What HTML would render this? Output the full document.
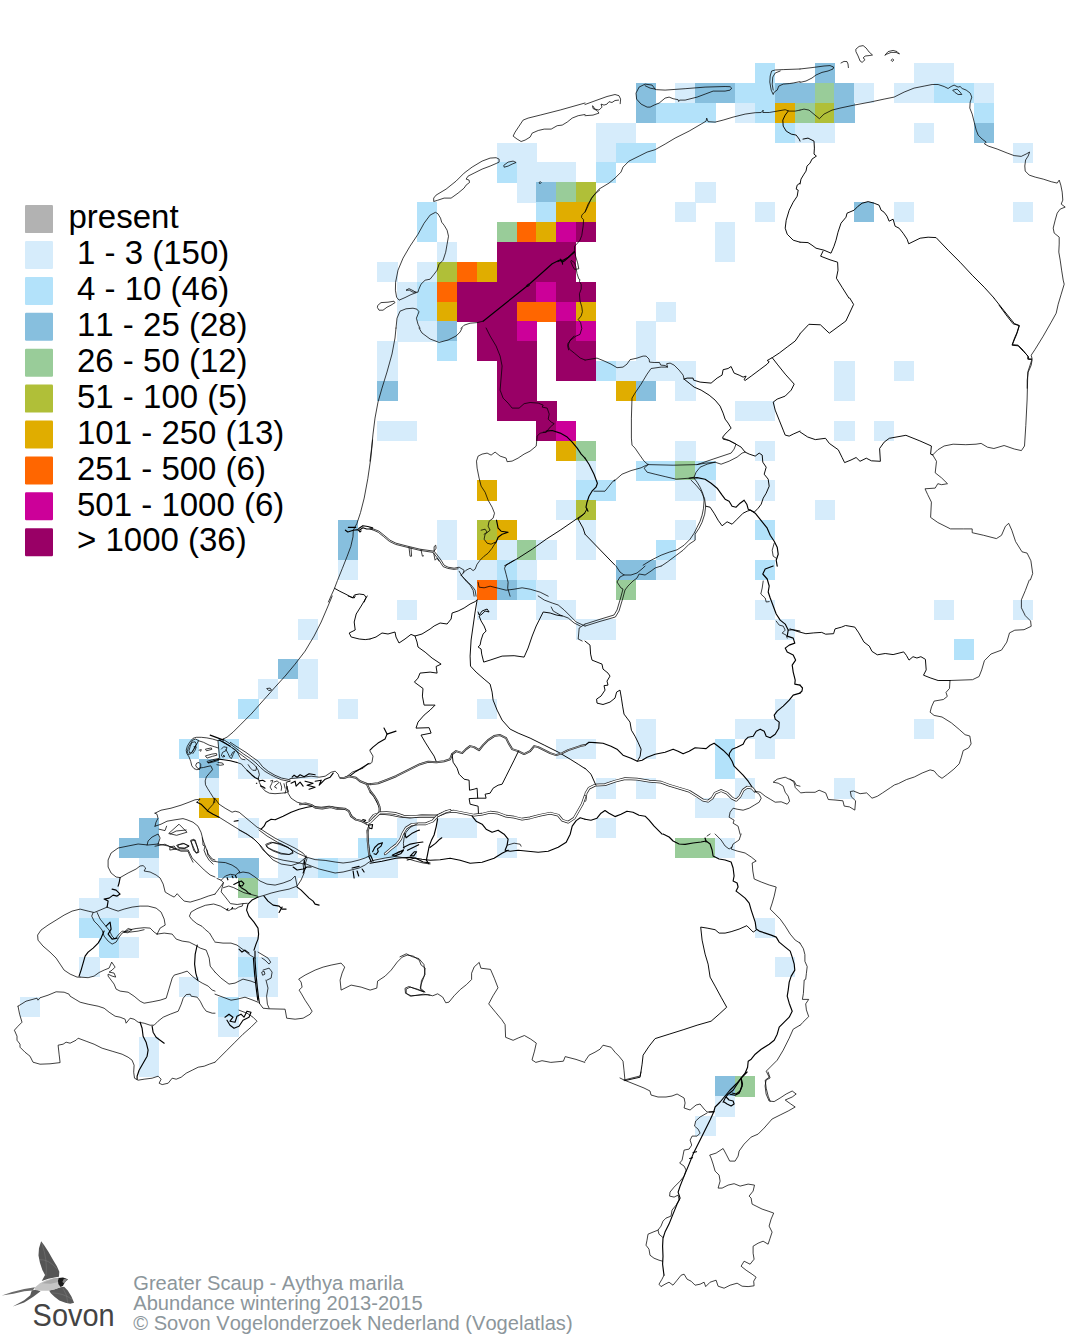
<!DOCTYPE html>
<html><head><meta charset="utf-8"><title>Greater Scaup - Abundance wintering 2013-2015</title>
<style>
html,body{margin:0;padding:0;background:#fff;}
body{width:1074px;height:1340px;overflow:hidden;font-family:"Liberation Sans",sans-serif;}
svg{display:block;position:absolute;left:0;top:0;}
svg text{font-family:"Liberation Sans",sans-serif;font-kerning:none;}
</style></head><body>
<svg width="1074" height="1340" viewBox="0 0 1074 1340">
<rect width="1074" height="1340" fill="#fff"/>
<g id="cells" shape-rendering="crispEdges">
<rect x="754.96" y="63.11" width="20.17" height="20.17" fill="#B3E2FA"/>
<rect x="814.57" y="63.11" width="20.17" height="20.17" fill="#87BFDE"/>
<rect x="913.92" y="63.11" width="20.17" height="20.17" fill="#D6ECFB"/>
<rect x="933.79" y="63.11" width="20.17" height="20.17" fill="#D6ECFB"/>
<rect x="635.74" y="82.98" width="20.17" height="20.17" fill="#87BFDE"/>
<rect x="675.48" y="82.98" width="20.17" height="20.17" fill="#D6ECFB"/>
<rect x="695.35" y="82.98" width="20.17" height="20.17" fill="#87BFDE"/>
<rect x="715.22" y="82.98" width="20.17" height="20.17" fill="#87BFDE"/>
<rect x="735.09" y="82.98" width="20.17" height="20.17" fill="#B3E2FA"/>
<rect x="754.96" y="82.98" width="20.17" height="20.17" fill="#B3E2FA"/>
<rect x="774.83" y="82.98" width="20.17" height="20.17" fill="#87BFDE"/>
<rect x="794.70" y="82.98" width="20.17" height="20.17" fill="#87BFDE"/>
<rect x="814.57" y="82.98" width="20.17" height="20.17" fill="#99CC99"/>
<rect x="834.44" y="82.98" width="20.17" height="20.17" fill="#87BFDE"/>
<rect x="854.31" y="82.98" width="20.17" height="20.17" fill="#D6ECFB"/>
<rect x="894.05" y="82.98" width="20.17" height="20.17" fill="#D6ECFB"/>
<rect x="913.92" y="82.98" width="20.17" height="20.17" fill="#D6ECFB"/>
<rect x="933.79" y="82.98" width="20.17" height="20.17" fill="#B3E2FA"/>
<rect x="953.66" y="82.98" width="20.17" height="20.17" fill="#B3E2FA"/>
<rect x="973.53" y="82.98" width="20.17" height="20.17" fill="#D6ECFB"/>
<rect x="635.74" y="102.85" width="20.17" height="20.17" fill="#87BFDE"/>
<rect x="655.61" y="102.85" width="20.17" height="20.17" fill="#B3E2FA"/>
<rect x="675.48" y="102.85" width="20.17" height="20.17" fill="#B3E2FA"/>
<rect x="695.35" y="102.85" width="20.17" height="20.17" fill="#B3E2FA"/>
<rect x="735.09" y="102.85" width="20.17" height="20.17" fill="#D6ECFB"/>
<rect x="754.96" y="102.85" width="20.17" height="20.17" fill="#B3E2FA"/>
<rect x="774.83" y="102.85" width="20.17" height="20.17" fill="#E0AD00"/>
<rect x="794.70" y="102.85" width="20.17" height="20.17" fill="#99CC99"/>
<rect x="814.57" y="102.85" width="20.17" height="20.17" fill="#B0BF38"/>
<rect x="834.44" y="102.85" width="20.17" height="20.17" fill="#87BFDE"/>
<rect x="973.53" y="102.85" width="20.17" height="20.17" fill="#B3E2FA"/>
<rect x="596.00" y="122.72" width="20.17" height="20.17" fill="#D6ECFB"/>
<rect x="615.87" y="122.72" width="20.17" height="20.17" fill="#D6ECFB"/>
<rect x="774.83" y="122.72" width="20.17" height="20.17" fill="#B3E2FA"/>
<rect x="794.70" y="122.72" width="20.17" height="20.17" fill="#D6ECFB"/>
<rect x="814.57" y="122.72" width="20.17" height="20.17" fill="#D6ECFB"/>
<rect x="913.92" y="122.72" width="20.17" height="20.17" fill="#D6ECFB"/>
<rect x="973.53" y="122.72" width="20.17" height="20.17" fill="#87BFDE"/>
<rect x="496.65" y="142.59" width="20.17" height="20.17" fill="#D6ECFB"/>
<rect x="516.52" y="142.59" width="20.17" height="20.17" fill="#D6ECFB"/>
<rect x="596.00" y="142.59" width="20.17" height="20.17" fill="#D6ECFB"/>
<rect x="615.87" y="142.59" width="20.17" height="20.17" fill="#B3E2FA"/>
<rect x="635.74" y="142.59" width="20.17" height="20.17" fill="#B3E2FA"/>
<rect x="1013.27" y="142.59" width="20.17" height="20.17" fill="#D6ECFB"/>
<rect x="496.65" y="162.46" width="20.17" height="20.17" fill="#B3E2FA"/>
<rect x="516.52" y="162.46" width="20.17" height="20.17" fill="#D6ECFB"/>
<rect x="536.39" y="162.46" width="20.17" height="20.17" fill="#D6ECFB"/>
<rect x="556.26" y="162.46" width="20.17" height="20.17" fill="#D6ECFB"/>
<rect x="596.00" y="162.46" width="20.17" height="20.17" fill="#B3E2FA"/>
<rect x="516.52" y="182.33" width="20.17" height="20.17" fill="#D6ECFB"/>
<rect x="536.39" y="182.33" width="20.17" height="20.17" fill="#87BFDE"/>
<rect x="556.26" y="182.33" width="20.17" height="20.17" fill="#99CC99"/>
<rect x="576.13" y="182.33" width="20.17" height="20.17" fill="#B0BF38"/>
<rect x="695.35" y="182.33" width="20.17" height="20.17" fill="#D6ECFB"/>
<rect x="417.17" y="202.20" width="20.17" height="20.17" fill="#B3E2FA"/>
<rect x="536.39" y="202.20" width="20.17" height="20.17" fill="#B3E2FA"/>
<rect x="556.26" y="202.20" width="20.17" height="20.17" fill="#E0AD00"/>
<rect x="576.13" y="202.20" width="20.17" height="20.17" fill="#E0AD00"/>
<rect x="675.48" y="202.20" width="20.17" height="20.17" fill="#D6ECFB"/>
<rect x="754.96" y="202.20" width="20.17" height="20.17" fill="#D6ECFB"/>
<rect x="854.31" y="202.20" width="20.17" height="20.17" fill="#87BFDE"/>
<rect x="894.05" y="202.20" width="20.17" height="20.17" fill="#D6ECFB"/>
<rect x="1013.27" y="202.20" width="20.17" height="20.17" fill="#D6ECFB"/>
<rect x="417.17" y="222.07" width="20.17" height="20.17" fill="#B3E2FA"/>
<rect x="496.65" y="222.07" width="20.17" height="20.17" fill="#99CC99"/>
<rect x="516.52" y="222.07" width="20.17" height="20.17" fill="#FF6600"/>
<rect x="536.39" y="222.07" width="20.17" height="20.17" fill="#E0AD00"/>
<rect x="556.26" y="222.07" width="20.17" height="20.17" fill="#CC0099"/>
<rect x="576.13" y="222.07" width="20.17" height="20.17" fill="#990066"/>
<rect x="715.22" y="222.07" width="20.17" height="20.17" fill="#D6ECFB"/>
<rect x="437.04" y="241.94" width="20.17" height="20.17" fill="#D6ECFB"/>
<rect x="496.65" y="241.94" width="20.17" height="20.17" fill="#990066"/>
<rect x="516.52" y="241.94" width="20.17" height="20.17" fill="#990066"/>
<rect x="536.39" y="241.94" width="20.17" height="20.17" fill="#990066"/>
<rect x="556.26" y="241.94" width="20.17" height="20.17" fill="#990066"/>
<rect x="715.22" y="241.94" width="20.17" height="20.17" fill="#D6ECFB"/>
<rect x="377.43" y="261.81" width="20.17" height="20.17" fill="#D6ECFB"/>
<rect x="417.17" y="261.81" width="20.17" height="20.17" fill="#D6ECFB"/>
<rect x="437.04" y="261.81" width="20.17" height="20.17" fill="#B0BF38"/>
<rect x="456.91" y="261.81" width="20.17" height="20.17" fill="#FF6600"/>
<rect x="476.78" y="261.81" width="20.17" height="20.17" fill="#E0AD00"/>
<rect x="496.65" y="261.81" width="20.17" height="20.17" fill="#990066"/>
<rect x="516.52" y="261.81" width="20.17" height="20.17" fill="#990066"/>
<rect x="536.39" y="261.81" width="20.17" height="20.17" fill="#990066"/>
<rect x="556.26" y="261.81" width="20.17" height="20.17" fill="#990066"/>
<rect x="397.30" y="281.68" width="20.17" height="20.17" fill="#D6ECFB"/>
<rect x="417.17" y="281.68" width="20.17" height="20.17" fill="#B3E2FA"/>
<rect x="437.04" y="281.68" width="20.17" height="20.17" fill="#FF6600"/>
<rect x="456.91" y="281.68" width="20.17" height="20.17" fill="#990066"/>
<rect x="476.78" y="281.68" width="20.17" height="20.17" fill="#990066"/>
<rect x="496.65" y="281.68" width="20.17" height="20.17" fill="#990066"/>
<rect x="516.52" y="281.68" width="20.17" height="20.17" fill="#990066"/>
<rect x="536.39" y="281.68" width="20.17" height="20.17" fill="#CC0099"/>
<rect x="556.26" y="281.68" width="20.17" height="20.17" fill="#990066"/>
<rect x="576.13" y="281.68" width="20.17" height="20.17" fill="#990066"/>
<rect x="397.30" y="301.55" width="20.17" height="20.17" fill="#D6ECFB"/>
<rect x="417.17" y="301.55" width="20.17" height="20.17" fill="#B3E2FA"/>
<rect x="437.04" y="301.55" width="20.17" height="20.17" fill="#E0AD00"/>
<rect x="456.91" y="301.55" width="20.17" height="20.17" fill="#990066"/>
<rect x="476.78" y="301.55" width="20.17" height="20.17" fill="#990066"/>
<rect x="496.65" y="301.55" width="20.17" height="20.17" fill="#990066"/>
<rect x="516.52" y="301.55" width="20.17" height="20.17" fill="#FF6600"/>
<rect x="536.39" y="301.55" width="20.17" height="20.17" fill="#FF6600"/>
<rect x="556.26" y="301.55" width="20.17" height="20.17" fill="#CC0099"/>
<rect x="576.13" y="301.55" width="20.17" height="20.17" fill="#E0AD00"/>
<rect x="655.61" y="301.55" width="20.17" height="20.17" fill="#D6ECFB"/>
<rect x="397.30" y="321.42" width="20.17" height="20.17" fill="#D6ECFB"/>
<rect x="417.17" y="321.42" width="20.17" height="20.17" fill="#D6ECFB"/>
<rect x="437.04" y="321.42" width="20.17" height="20.17" fill="#87BFDE"/>
<rect x="476.78" y="321.42" width="20.17" height="20.17" fill="#990066"/>
<rect x="496.65" y="321.42" width="20.17" height="20.17" fill="#990066"/>
<rect x="516.52" y="321.42" width="20.17" height="20.17" fill="#CC0099"/>
<rect x="556.26" y="321.42" width="20.17" height="20.17" fill="#990066"/>
<rect x="576.13" y="321.42" width="20.17" height="20.17" fill="#CC0099"/>
<rect x="635.74" y="321.42" width="20.17" height="20.17" fill="#D6ECFB"/>
<rect x="377.43" y="341.29" width="20.17" height="20.17" fill="#D6ECFB"/>
<rect x="437.04" y="341.29" width="20.17" height="20.17" fill="#B3E2FA"/>
<rect x="476.78" y="341.29" width="20.17" height="20.17" fill="#990066"/>
<rect x="496.65" y="341.29" width="20.17" height="20.17" fill="#990066"/>
<rect x="516.52" y="341.29" width="20.17" height="20.17" fill="#990066"/>
<rect x="556.26" y="341.29" width="20.17" height="20.17" fill="#990066"/>
<rect x="576.13" y="341.29" width="20.17" height="20.17" fill="#990066"/>
<rect x="635.74" y="341.29" width="20.17" height="20.17" fill="#D6ECFB"/>
<rect x="377.43" y="361.16" width="20.17" height="20.17" fill="#D6ECFB"/>
<rect x="496.65" y="361.16" width="20.17" height="20.17" fill="#990066"/>
<rect x="516.52" y="361.16" width="20.17" height="20.17" fill="#990066"/>
<rect x="556.26" y="361.16" width="20.17" height="20.17" fill="#990066"/>
<rect x="576.13" y="361.16" width="20.17" height="20.17" fill="#990066"/>
<rect x="596.00" y="361.16" width="20.17" height="20.17" fill="#B3E2FA"/>
<rect x="615.87" y="361.16" width="20.17" height="20.17" fill="#D6ECFB"/>
<rect x="635.74" y="361.16" width="20.17" height="20.17" fill="#D6ECFB"/>
<rect x="655.61" y="361.16" width="20.17" height="20.17" fill="#D6ECFB"/>
<rect x="675.48" y="361.16" width="20.17" height="20.17" fill="#D6ECFB"/>
<rect x="834.44" y="361.16" width="20.17" height="20.17" fill="#D6ECFB"/>
<rect x="894.05" y="361.16" width="20.17" height="20.17" fill="#D6ECFB"/>
<rect x="377.43" y="381.03" width="20.17" height="20.17" fill="#87BFDE"/>
<rect x="496.65" y="381.03" width="20.17" height="20.17" fill="#990066"/>
<rect x="516.52" y="381.03" width="20.17" height="20.17" fill="#990066"/>
<rect x="615.87" y="381.03" width="20.17" height="20.17" fill="#E0AD00"/>
<rect x="635.74" y="381.03" width="20.17" height="20.17" fill="#87BFDE"/>
<rect x="675.48" y="381.03" width="20.17" height="20.17" fill="#D6ECFB"/>
<rect x="834.44" y="381.03" width="20.17" height="20.17" fill="#D6ECFB"/>
<rect x="496.65" y="400.90" width="20.17" height="20.17" fill="#990066"/>
<rect x="516.52" y="400.90" width="20.17" height="20.17" fill="#990066"/>
<rect x="536.39" y="400.90" width="20.17" height="20.17" fill="#990066"/>
<rect x="735.09" y="400.90" width="20.17" height="20.17" fill="#D6ECFB"/>
<rect x="754.96" y="400.90" width="20.17" height="20.17" fill="#D6ECFB"/>
<rect x="377.43" y="420.77" width="20.17" height="20.17" fill="#D6ECFB"/>
<rect x="397.30" y="420.77" width="20.17" height="20.17" fill="#D6ECFB"/>
<rect x="536.39" y="420.77" width="20.17" height="20.17" fill="#990066"/>
<rect x="556.26" y="420.77" width="20.17" height="20.17" fill="#CC0099"/>
<rect x="834.44" y="420.77" width="20.17" height="20.17" fill="#D6ECFB"/>
<rect x="874.18" y="420.77" width="20.17" height="20.17" fill="#D6ECFB"/>
<rect x="556.26" y="440.64" width="20.17" height="20.17" fill="#E0AD00"/>
<rect x="576.13" y="440.64" width="20.17" height="20.17" fill="#99CC99"/>
<rect x="675.48" y="440.64" width="20.17" height="20.17" fill="#D6ECFB"/>
<rect x="754.96" y="440.64" width="20.17" height="20.17" fill="#D6ECFB"/>
<rect x="576.13" y="460.51" width="20.17" height="20.17" fill="#D6ECFB"/>
<rect x="635.74" y="460.51" width="20.17" height="20.17" fill="#B3E2FA"/>
<rect x="655.61" y="460.51" width="20.17" height="20.17" fill="#B3E2FA"/>
<rect x="675.48" y="460.51" width="20.17" height="20.17" fill="#99CC99"/>
<rect x="695.35" y="460.51" width="20.17" height="20.17" fill="#B3E2FA"/>
<rect x="476.78" y="480.38" width="20.17" height="20.17" fill="#E0AD00"/>
<rect x="576.13" y="480.38" width="20.17" height="20.17" fill="#B3E2FA"/>
<rect x="596.00" y="480.38" width="20.17" height="20.17" fill="#B3E2FA"/>
<rect x="675.48" y="480.38" width="20.17" height="20.17" fill="#D6ECFB"/>
<rect x="695.35" y="480.38" width="20.17" height="20.17" fill="#D6ECFB"/>
<rect x="754.96" y="480.38" width="20.17" height="20.17" fill="#D6ECFB"/>
<rect x="556.26" y="500.25" width="20.17" height="20.17" fill="#D6ECFB"/>
<rect x="576.13" y="500.25" width="20.17" height="20.17" fill="#B0BF38"/>
<rect x="814.57" y="500.25" width="20.17" height="20.17" fill="#D6ECFB"/>
<rect x="337.69" y="520.12" width="20.17" height="20.17" fill="#87BFDE"/>
<rect x="437.04" y="520.12" width="20.17" height="20.17" fill="#D6ECFB"/>
<rect x="476.78" y="520.12" width="20.17" height="20.17" fill="#B0BF38"/>
<rect x="496.65" y="520.12" width="20.17" height="20.17" fill="#E0AD00"/>
<rect x="576.13" y="520.12" width="20.17" height="20.17" fill="#D6ECFB"/>
<rect x="675.48" y="520.12" width="20.17" height="20.17" fill="#D6ECFB"/>
<rect x="754.96" y="520.12" width="20.17" height="20.17" fill="#B3E2FA"/>
<rect x="337.69" y="539.99" width="20.17" height="20.17" fill="#87BFDE"/>
<rect x="437.04" y="539.99" width="20.17" height="20.17" fill="#D6ECFB"/>
<rect x="476.78" y="539.99" width="20.17" height="20.17" fill="#E0AD00"/>
<rect x="496.65" y="539.99" width="20.17" height="20.17" fill="#D6ECFB"/>
<rect x="516.52" y="539.99" width="20.17" height="20.17" fill="#99CC99"/>
<rect x="536.39" y="539.99" width="20.17" height="20.17" fill="#D6ECFB"/>
<rect x="576.13" y="539.99" width="20.17" height="20.17" fill="#D6ECFB"/>
<rect x="655.61" y="539.99" width="20.17" height="20.17" fill="#B3E2FA"/>
<rect x="337.69" y="559.86" width="20.17" height="20.17" fill="#D6ECFB"/>
<rect x="456.91" y="559.86" width="20.17" height="20.17" fill="#D6ECFB"/>
<rect x="476.78" y="559.86" width="20.17" height="20.17" fill="#D6ECFB"/>
<rect x="496.65" y="559.86" width="20.17" height="20.17" fill="#B3E2FA"/>
<rect x="516.52" y="559.86" width="20.17" height="20.17" fill="#D6ECFB"/>
<rect x="615.87" y="559.86" width="20.17" height="20.17" fill="#87BFDE"/>
<rect x="635.74" y="559.86" width="20.17" height="20.17" fill="#87BFDE"/>
<rect x="655.61" y="559.86" width="20.17" height="20.17" fill="#D6ECFB"/>
<rect x="754.96" y="559.86" width="20.17" height="20.17" fill="#B3E2FA"/>
<rect x="456.91" y="579.73" width="20.17" height="20.17" fill="#D6ECFB"/>
<rect x="476.78" y="579.73" width="20.17" height="20.17" fill="#FF6600"/>
<rect x="496.65" y="579.73" width="20.17" height="20.17" fill="#87BFDE"/>
<rect x="516.52" y="579.73" width="20.17" height="20.17" fill="#B3E2FA"/>
<rect x="536.39" y="579.73" width="20.17" height="20.17" fill="#D6ECFB"/>
<rect x="615.87" y="579.73" width="20.17" height="20.17" fill="#99CC99"/>
<rect x="397.30" y="599.60" width="20.17" height="20.17" fill="#D6ECFB"/>
<rect x="476.78" y="599.60" width="20.17" height="20.17" fill="#D6ECFB"/>
<rect x="536.39" y="599.60" width="20.17" height="20.17" fill="#D6ECFB"/>
<rect x="556.26" y="599.60" width="20.17" height="20.17" fill="#D6ECFB"/>
<rect x="754.96" y="599.60" width="20.17" height="20.17" fill="#D6ECFB"/>
<rect x="933.79" y="599.60" width="20.17" height="20.17" fill="#D6ECFB"/>
<rect x="1013.27" y="599.60" width="20.17" height="20.17" fill="#D6ECFB"/>
<rect x="297.95" y="619.47" width="20.17" height="20.17" fill="#D6ECFB"/>
<rect x="576.13" y="619.47" width="20.17" height="20.17" fill="#D6ECFB"/>
<rect x="596.00" y="619.47" width="20.17" height="20.17" fill="#D6ECFB"/>
<rect x="774.83" y="619.47" width="20.17" height="20.17" fill="#D6ECFB"/>
<rect x="953.66" y="639.34" width="20.17" height="20.17" fill="#B3E2FA"/>
<rect x="278.08" y="659.21" width="20.17" height="20.17" fill="#87BFDE"/>
<rect x="297.95" y="659.21" width="20.17" height="20.17" fill="#D6ECFB"/>
<rect x="258.21" y="679.08" width="20.17" height="20.17" fill="#D6ECFB"/>
<rect x="297.95" y="679.08" width="20.17" height="20.17" fill="#D6ECFB"/>
<rect x="238.34" y="698.95" width="20.17" height="20.17" fill="#B3E2FA"/>
<rect x="337.69" y="698.95" width="20.17" height="20.17" fill="#D6ECFB"/>
<rect x="476.78" y="698.95" width="20.17" height="20.17" fill="#D6ECFB"/>
<rect x="774.83" y="698.95" width="20.17" height="20.17" fill="#D6ECFB"/>
<rect x="635.74" y="718.82" width="20.17" height="20.17" fill="#D6ECFB"/>
<rect x="735.09" y="718.82" width="20.17" height="20.17" fill="#D6ECFB"/>
<rect x="754.96" y="718.82" width="20.17" height="20.17" fill="#D6ECFB"/>
<rect x="774.83" y="718.82" width="20.17" height="20.17" fill="#D6ECFB"/>
<rect x="913.92" y="718.82" width="20.17" height="20.17" fill="#D6ECFB"/>
<rect x="178.73" y="738.69" width="20.17" height="20.17" fill="#B3E2FA"/>
<rect x="218.47" y="738.69" width="20.17" height="20.17" fill="#B3E2FA"/>
<rect x="556.26" y="738.69" width="20.17" height="20.17" fill="#D6ECFB"/>
<rect x="576.13" y="738.69" width="20.17" height="20.17" fill="#D6ECFB"/>
<rect x="635.74" y="738.69" width="20.17" height="20.17" fill="#D6ECFB"/>
<rect x="715.22" y="738.69" width="20.17" height="20.17" fill="#B3E2FA"/>
<rect x="754.96" y="738.69" width="20.17" height="20.17" fill="#D6ECFB"/>
<rect x="198.60" y="758.56" width="20.17" height="20.17" fill="#87BFDE"/>
<rect x="238.34" y="758.56" width="20.17" height="20.17" fill="#D6ECFB"/>
<rect x="258.21" y="758.56" width="20.17" height="20.17" fill="#D6ECFB"/>
<rect x="278.08" y="758.56" width="20.17" height="20.17" fill="#D6ECFB"/>
<rect x="297.95" y="758.56" width="20.17" height="20.17" fill="#D6ECFB"/>
<rect x="715.22" y="758.56" width="20.17" height="20.17" fill="#B3E2FA"/>
<rect x="198.60" y="778.43" width="20.17" height="20.17" fill="#D6ECFB"/>
<rect x="596.00" y="778.43" width="20.17" height="20.17" fill="#D6ECFB"/>
<rect x="635.74" y="778.43" width="20.17" height="20.17" fill="#D6ECFB"/>
<rect x="735.09" y="778.43" width="20.17" height="20.17" fill="#D6ECFB"/>
<rect x="834.44" y="778.43" width="20.17" height="20.17" fill="#D6ECFB"/>
<rect x="198.60" y="798.30" width="20.17" height="20.17" fill="#E0AD00"/>
<rect x="695.35" y="798.30" width="20.17" height="20.17" fill="#D6ECFB"/>
<rect x="715.22" y="798.30" width="20.17" height="20.17" fill="#D6ECFB"/>
<rect x="138.99" y="818.17" width="20.17" height="20.17" fill="#87BFDE"/>
<rect x="238.34" y="818.17" width="20.17" height="20.17" fill="#D6ECFB"/>
<rect x="397.30" y="818.17" width="20.17" height="20.17" fill="#D6ECFB"/>
<rect x="437.04" y="818.17" width="20.17" height="20.17" fill="#D6ECFB"/>
<rect x="456.91" y="818.17" width="20.17" height="20.17" fill="#D6ECFB"/>
<rect x="596.00" y="818.17" width="20.17" height="20.17" fill="#D6ECFB"/>
<rect x="119.12" y="838.04" width="20.17" height="20.17" fill="#87BFDE"/>
<rect x="138.99" y="838.04" width="20.17" height="20.17" fill="#87BFDE"/>
<rect x="278.08" y="838.04" width="20.17" height="20.17" fill="#D6ECFB"/>
<rect x="357.56" y="838.04" width="20.17" height="20.17" fill="#B3E2FA"/>
<rect x="377.43" y="838.04" width="20.17" height="20.17" fill="#B3E2FA"/>
<rect x="397.30" y="838.04" width="20.17" height="20.17" fill="#D6ECFB"/>
<rect x="496.65" y="838.04" width="20.17" height="20.17" fill="#D6ECFB"/>
<rect x="675.48" y="838.04" width="20.17" height="20.17" fill="#99CC99"/>
<rect x="695.35" y="838.04" width="20.17" height="20.17" fill="#99CC99"/>
<rect x="715.22" y="838.04" width="20.17" height="20.17" fill="#D6ECFB"/>
<rect x="138.99" y="857.91" width="20.17" height="20.17" fill="#D6ECFB"/>
<rect x="218.47" y="857.91" width="20.17" height="20.17" fill="#87BFDE"/>
<rect x="238.34" y="857.91" width="20.17" height="20.17" fill="#87BFDE"/>
<rect x="278.08" y="857.91" width="20.17" height="20.17" fill="#D6ECFB"/>
<rect x="297.95" y="857.91" width="20.17" height="20.17" fill="#D6ECFB"/>
<rect x="317.82" y="857.91" width="20.17" height="20.17" fill="#B3E2FA"/>
<rect x="337.69" y="857.91" width="20.17" height="20.17" fill="#D6ECFB"/>
<rect x="357.56" y="857.91" width="20.17" height="20.17" fill="#D6ECFB"/>
<rect x="377.43" y="857.91" width="20.17" height="20.17" fill="#D6ECFB"/>
<rect x="99.25" y="877.78" width="20.17" height="20.17" fill="#D6ECFB"/>
<rect x="238.34" y="877.78" width="20.17" height="20.17" fill="#99CC99"/>
<rect x="258.21" y="877.78" width="20.17" height="20.17" fill="#D6ECFB"/>
<rect x="278.08" y="877.78" width="20.17" height="20.17" fill="#D6ECFB"/>
<rect x="79.38" y="897.65" width="20.17" height="20.17" fill="#D6ECFB"/>
<rect x="99.25" y="897.65" width="20.17" height="20.17" fill="#D6ECFB"/>
<rect x="119.12" y="897.65" width="20.17" height="20.17" fill="#D6ECFB"/>
<rect x="258.21" y="897.65" width="20.17" height="20.17" fill="#D6ECFB"/>
<rect x="79.38" y="917.52" width="20.17" height="20.17" fill="#B3E2FA"/>
<rect x="99.25" y="917.52" width="20.17" height="20.17" fill="#B3E2FA"/>
<rect x="754.96" y="917.52" width="20.17" height="20.17" fill="#D6ECFB"/>
<rect x="99.25" y="937.39" width="20.17" height="20.17" fill="#B3E2FA"/>
<rect x="119.12" y="937.39" width="20.17" height="20.17" fill="#D6ECFB"/>
<rect x="238.34" y="937.39" width="20.17" height="20.17" fill="#D6ECFB"/>
<rect x="79.38" y="957.26" width="20.17" height="20.17" fill="#D6ECFB"/>
<rect x="238.34" y="957.26" width="20.17" height="20.17" fill="#B3E2FA"/>
<rect x="258.21" y="957.26" width="20.17" height="20.17" fill="#D6ECFB"/>
<rect x="774.83" y="957.26" width="20.17" height="20.17" fill="#D6ECFB"/>
<rect x="178.73" y="977.13" width="20.17" height="20.17" fill="#D6ECFB"/>
<rect x="238.34" y="977.13" width="20.17" height="20.17" fill="#D6ECFB"/>
<rect x="258.21" y="977.13" width="20.17" height="20.17" fill="#D6ECFB"/>
<rect x="19.77" y="997.00" width="20.17" height="20.17" fill="#D6ECFB"/>
<rect x="218.47" y="997.00" width="20.17" height="20.17" fill="#B3E2FA"/>
<rect x="218.47" y="1016.87" width="20.17" height="20.17" fill="#D6ECFB"/>
<rect x="138.99" y="1036.74" width="20.17" height="20.17" fill="#D6ECFB"/>
<rect x="138.99" y="1056.61" width="20.17" height="20.17" fill="#D6ECFB"/>
<rect x="715.22" y="1076.48" width="20.17" height="20.17" fill="#87BFDE"/>
<rect x="735.09" y="1076.48" width="20.17" height="20.17" fill="#99CC99"/>
<rect x="715.22" y="1096.35" width="20.17" height="20.17" fill="#D6ECFB"/>
<rect x="695.35" y="1116.22" width="20.17" height="20.17" fill="#D6ECFB"/>
</g>
<g id="outlines" fill="none" stroke="#222" stroke-width="0.9" stroke-linejoin="round" stroke-linecap="round">
<path d="M435.1,212.5 L430.1,215.1 L424.1,223.2 L418.0,234.2 L410.0,246.2 L403.0,258.2 L398.0,270.2 L395.6,282.2 L395.4,290.2 L396.6,297.2 L399.0,300.2 L405.0,297.6 L411.0,294.6 L416.4,292.6 L413.0,290.6 L409.0,288.6 L406.0,290.2 L409.4,290.2 L413.0,292.2 L418.0,292.2 L418.6,289.8 L421.0,284.2 L425.1,280.2 L430.1,279.2 L434.1,274.2 L437.1,270.2 L439.1,264.2 L443.1,260.2 L445.7,252.2 L447.1,244.2 L448.5,236.2 L447.1,230.2 L444.1,225.2 L441.7,222.2 L440.5,218.1 L438.1,214.1 Z" stroke="#000" stroke-width="0.75"/>
<path d="M433.7,201.1 L433.7,198.1 L436.1,195.1 L446.1,189.1 L456.1,181.1 L464.1,173.1 L472.1,167.1 L482.1,161.1 L490.1,158.1 L496.1,157.7 L499.1,159.1 L499.1,162.1 L496.1,163.5 L490.1,166.1 L482.1,169.1 L474.1,173.1 L468.1,176.1 L466.1,179.1 L469.1,180.1 L469.5,182.5 L466.1,185.1 L464.1,188.1 L458.1,193.1 L451.1,198.1 L444.1,198.1 L438.1,200.1 Z" stroke="#000" stroke-width="0.75"/>
<path d="M504.1,165.1 L508.1,162.1 L513.1,161.1 L516.1,162.5 L512.1,164.1 L508.1,166.1 L504.5,167.1 Z" stroke="#000" stroke-width="0.75"/>
<path d="M539.4,182.5 L540.2,181.5 L541.2,182.5 L540.2,183.5 Z" stroke="#000" stroke-width="0.75"/>
<path d="M585.0,103.0 L560.2,110.0 L540.2,115.1 L528.1,118.1 L523.1,120.1 L519.1,126.1 L515.1,132.1 L513.1,136.1 L517.1,139.1 L521.1,141.5 L525.1,140.1 L530.1,137.1 L532.2,133.1 L538.2,130.5 L544.2,129.1 L551.2,129.1 L557.2,125.7 L562.2,125.1 L567.2,122.1 L572.2,118.1 L578.2,115.7 L585.0,114.5" stroke="#000" stroke-width="0.75"/>
<path d="M574.2,252.2 L568.2,257.2 L563.2,260.2 L559.2,260.2 L552.2,263.8 L528.1,285.2 L483.1,321.2" stroke="#000" stroke-width="1.15"/>
<path d="M560.2,259.2 L562.2,261.2 L562.6,264.2" stroke="#000" stroke-width="1.15"/>
<path d="M526.7,285.2 L528.1,283.8 L529.5,285.2 L528.1,286.6 Z" stroke="#000" stroke-width="0.75"/>
<path d="M378.0,305.2 L381.0,302.6 L388.0,302.2 L394.0,301.2 L395.0,302.6 L391.0,305.2 L387.0,307.2 L383.0,310.2 L379.0,310.2 L377.6,307.8 Z" stroke="#000" stroke-width="0.75"/>
<path d="M396.0,328.2 L397.0,318.2 L400.0,311.2 L406.0,308.8 L413.0,308.2 L417.0,309.2 L419.0,311.8 L418.0,314.2 L416.4,318.2 L418.0,324.2 L420.0,328.2" stroke="#000" stroke-width="0.75"/>
<path d="M461.1,328.2 L464.1,325.2 L470.1,323.2 L477.1,322.6 L483.1,321.2" stroke="#000" stroke-width="0.75"/>
<path d="M585.0,104.5 L597.0,100.1 L607.0,96.5 L615.0,94.5 L619.0,95.7 L620.6,99.1 L620.2,103.7" stroke="#000" stroke-width="0.75"/>
<path d="M618.6,100.1 L615.0,100.5 L612.0,102.5 L609.0,101.7 L607.0,104.1 L604.0,105.1 L601.0,104.1 L602.0,107.1 L599.0,110.1 L595.0,109.1 L592.6,105.7 L593.0,108.5 L597.0,110.5 L599.0,113.1 L593.0,115.1 L585.0,115.7" stroke="#000" stroke-width="0.75"/>
<path d="M655.1,89.1 L652.1,85.1 L645.1,84.1 L639.1,87.1 L636.0,93.1 L636.6,99.1 L641.1,104.1 L647.1,107.1 L650.1,107.1 L654.1,105.1 L659.1,103.1 L665.1,98.1 L669.1,97.1 L673.1,98.7 L678.1,99.7 L678.7,101.5 L679.5,100.1 L685.1,100.1 L697.1,97.1 L705.1,94.1 L713.1,91.1 L725.1,91.1 L730.1,90.1 L731.7,88.1 L730.1,86.7 L725.1,86.5 L705.1,87.1 L685.1,88.7 L665.1,90.1 L657.1,89.7 Z" stroke="#000" stroke-width="0.75"/>
<path d="M645.1,85.7 L650.1,88.1 L655.1,89.1" stroke="#000" stroke-width="0.75"/>
<path d="M585.0,212.2 L588.0,204.2 L593.0,196.2 L599.0,189.1 L609.0,183.1 L615.0,178.1 L621.0,172.1 L623.0,167.1 L629.0,161.1 L639.1,156.1 L647.1,152.1 L655.1,149.7 L665.1,144.1 L675.1,138.1 L689.1,131.1 L701.1,124.1 L706.1,121.1 L706.7,118.1 L708.1,121.7 L715.1,122.1 L723.1,120.1 L733.1,117.1 L745.1,114.1 L755.2,112.7 L761.2,112.5 L763.2,110.1 L762.8,112.5 L769.2,112.5 L777.2,111.1 L785.2,109.7 L789.2,111.1 L795.2,111.1 L800.0,110.1" stroke="#000" stroke-width="0.75"/>
<path d="M788.2,111.1 L785.2,115.1 L782.8,120.1 L783.2,126.1 L786.2,131.1 L791.2,134.1 L796.2,135.1 L799.2,139.1 L800.0,141.1" stroke="#000" stroke-width="0.95"/>
<path d="M800.0,69.0 L783.2,69.6 L775.2,70.0 L771.6,71.0 L770.2,76.0 L769.8,82.0 L771.2,90.1 L773.2,94.5 L774.2,92.1 L777.2,90.1 L778.8,86.1 L783.2,84.1 L789.2,83.6 L793.2,83.0 L800.0,81.6" stroke="#000" stroke-width="0.75"/>
<path d="M780.2,71.0 L775.2,73.0 L772.8,77.0 L772.2,84.1 L773.2,90.1" stroke="#000" stroke-width="0.75"/>
<path d="M800.0,183.1 L797.2,185.1 L796.2,189.1 L798.2,190.1 L797.2,196.2 L793.2,202.2 L789.2,210.2 L786.2,220.2 L785.2,228.2 L787.2,234.2 L793.2,240.2 L800.0,242.2" stroke="#000" stroke-width="0.95"/>
<path d="M800.0,69.0 L812.0,67.6 L824.0,66.0 L830.0,65.6 L833.6,67.0 L833.0,69.0 L828.0,71.0 L822.0,72.4 L816.0,75.0 L812.0,78.0 L806.0,81.0 L800.0,82.4" stroke="#000" stroke-width="0.75"/>
<path d="M841.0,63.0 L844.0,61.4 L847.0,61.6 L848.0,64.0 L848.4,67.6" stroke="#000" stroke-width="0.75"/>
<path d="M856.1,49.0 L859.1,46.4 L863.1,45.6 L866.1,48.0 L869.1,52.0 L872.5,55.0 L869.1,55.6 L865.1,56.0 L863.1,58.0 L865.1,59.6 L862.1,62.4 L860.1,61.0 L858.1,56.0 L856.1,52.0 Z" stroke="#000" stroke-width="0.75"/>
<path d="M885.1,55.0 L888.1,51.6 L893.1,50.4 L897.1,51.6 L899.5,54.0 L896.1,52.4 L891.1,52.4 L887.1,54.0 Z" stroke="#000" stroke-width="0.75"/>
<path d="M891.3,60.0 L892.5,59.0 L893.9,60.0 L892.5,61.2 Z" stroke="#000" stroke-width="0.75"/>
<path d="M800.0,110.1 L804.0,109.1 L809.0,110.1 L815.0,115.1 L819.4,118.7 L824.0,114.1 L832.0,110.1 L840.0,108.1 L854.1,105.1 L870.1,102.1 L884.1,99.1 L894.1,97.1 L904.1,92.1 L914.1,88.1 L924.1,86.1 L932.1,84.5 L938.1,84.5 L944.1,86.5 L948.1,88.5 L951.1,86.5 L954.1,85.1 L958.1,87.1 L960.1,86.5 L962.2,88.5 L966.2,90.1 L970.2,93.1 L971.8,97.1 L970.2,102.1 L969.8,108.1 L972.2,114.1 L974.2,122.1 L976.2,130.1 L978.2,135.1 L982.2,139.1 L986.2,142.1 L984.6,143.7" stroke="#000" stroke-width="0.75"/>
<path d="M953.1,90.1 L957.1,89.1 L960.1,92.1 L961.8,94.5 L958.1,94.5 L955.1,92.5 Z" stroke="#000" stroke-width="0.75"/>
<path d="M803.0,139.1 L808.0,138.1 L814.0,141.1 L814.4,148.1 L814.0,154.1 L816.4,156.1 L812.0,159.1 L810.0,163.1 L807.0,166.1 L806.0,171.1 L804.0,174.1 L801.0,179.1 L800.0,184.1" stroke="#000" stroke-width="0.95"/>
<path d="M800.0,242.2 L808.0,242.6 L812.0,245.2 L816.0,248.2 L824.0,250.2 L831.0,253.2 L834.0,246.2 L836.0,240.2 L838.0,232.2 L841.0,223.2 L846.0,217.2 L847.0,213.2 L854.1,210.2 L858.1,206.2 L862.1,203.2 L868.1,201.6 L874.1,203.2 L879.1,205.2 L881.1,210.2 L884.1,212.2 L887.1,216.2 L889.1,221.2 L893.1,219.2 L895.1,226.2 L899.1,228.2 L903.1,233.2 L907.1,239.2 L908.7,243.8 L920.1,238.2 L928.1,237.2 L936.1,237.6 L948.1,250.2 L960.1,262.2 L972.2,275.2 L984.2,287.2 L994.2,298.2" stroke="#000" stroke-width="0.95"/>
<path d="M823.0,251.2 L820.6,256.2 L830.0,259.8 L837.6,262.2 L838.0,270.2 L836.4,278.2 L842.0,287.2 L849.0,298.2" stroke="#000" stroke-width="0.95"/>
<path d="M984.7,144.0 L988.1,146.0 L997.1,149.0 L1007.1,153.0 L1014.1,155.6 L1021.2,156.4 L1026.2,154.0 L1029.6,152.0 L1028.2,156.0 L1025.6,160.0 L1024.8,166.0 L1025.2,171.0 L1029.2,175.1 L1035.2,177.1 L1043.2,179.1 L1051.2,181.7 L1057.2,183.1 L1059.2,180.1 L1060.8,185.1 L1062.2,192.1 L1062.8,200.1 L1061.2,204.1 L1065.2,207.1 L1060.2,209.1 L1057.2,213.1 L1055.2,220.1 L1053.2,228.1 L1054.2,233.1 L1059.2,237.1 L1059.2,244.1 L1058.8,252.1 L1060.2,260.1 L1061.6,270.1 L1063.2,280.1 L1064.2,284.2 L1061.2,294.2 L1058.2,304.2 L1056.2,313.2 L1051.2,322.2 L1043.2,336.2 L1035.2,349.2 L1031.2,355.2 L1032.2,359.2 L1031.2,365.2 L1028.2,372.2 L1027.2,380.2 L1027.2,388.2" stroke="#000" stroke-width="0.75"/>
<path d="M999.1,305.2 L1007.1,316.2 L1013.1,323.8 L1019.1,325.6 L1017.1,332.2 L1014.1,339.2 L1012.1,345.2 L1018.1,345.8 L1023.2,351.2 L1028.2,356.2 L1028.8,359.2 L1031.6,359.2" stroke="#000" stroke-width="0.95"/>
<path d="M585.0,360.1 L591.0,359.1 L597.0,358.1 L603.0,360.5 L611.0,364.1 L617.0,367.7 L623.0,367.1 L627.0,364.1 L630.0,359.7 L637.0,358.1 L643.1,356.1 L646.1,356.1 L649.1,359.1 L649.5,362.1 L654.1,362.5 L659.5,362.5 L660.7,365.1 L665.1,365.5 L667.5,367.1 L666.7,363.7 L670.1,363.1 L674.1,365.1 L679.1,370.1 L683.1,375.1 L684.1,379.1" stroke="#000" stroke-width="0.75"/>
<path d="M684.1,379.1 L687.1,378.1 L693.1,378.1 L693.5,380.1 L700.1,382.1 L711.1,383.1 L717.1,378.1 L722.1,375.1 L723.1,369.7 L728.1,368.5 L731.1,366.5 L734.1,373.1 L739.1,375.1 L743.1,377.1 L746.1,376.1 L744.1,379.7 L745.1,380.5 L751.2,376.1 L759.2,370.1 L767.2,364.1 L769.2,361.7 L767.2,360.5 L772.2,357.7 L779.2,353.1 L787.2,347.0 L795.2,341.0 L800.0,334.0" stroke="#000" stroke-width="0.95"/>
<path d="M667.5,367.1 L661.1,367.1 L651.1,368.5 L647.1,374.1 L641.1,384.1 L635.0,393.1 L632.0,398.1 L631.4,418.1 L631.4,438.1 L632.0,445.1 L635.0,448.1 L639.1,454.1 L644.1,461.2 L648.1,464.6 L673.1,465.2 L697.1,464.6 L713.1,459.1 L731.1,453.1 L734.1,449.1 L736.1,444.1 L729.1,440.5 L723.1,438.1" stroke="#000" stroke-width="0.75"/>
<path d="M684.1,379.1 L689.1,383.1 L694.1,387.1 L701.1,390.1 L709.1,395.1 L715.1,400.1 L720.1,406.1 L723.1,413.1 L725.1,419.1 L728.1,423.1 L731.1,428.1 L728.1,431.1 L725.1,434.1 L722.7,437.1 L723.1,439.1 L729.1,440.5 L735.1,443.7 L741.1,447.1 L745.1,452.1 L749.2,454.1 L755.2,456.1 L759.2,453.1 L762.2,455.1 L762.8,462.2 L766.2,467.2 L764.2,474.2 L768.2,479.2 L769.2,486.2 L766.2,493.2 L763.2,498.2 L761.2,504.2 L758.2,508.2 L754.2,512.2 L750.2,510.2" stroke="#000" stroke-width="0.95"/>
<path d="M648.1,464.6 L644.1,468.2 L647.1,472.2 L655.1,474.2 L665.1,476.6 L676.1,479.2 L689.1,478.2 L694.1,477.2 L696.1,472.2 L700.1,467.2 L707.1,464.2 L715.1,462.2 L721.1,464.2 L729.1,461.2 L737.1,457.1 L742.1,453.1 L745.1,452.1" stroke="#000" stroke-width="0.75"/>
<path d="M697.1,464.6 L705.1,463.2 L715.1,462.2" stroke="#000" stroke-width="0.75"/>
<path d="M694.1,478.2 L697.1,482.2 L700.1,487.2 L702.7,493.2 L704.1,500.2 L703.5,508.2 L702.1,515.2 L700.1,521.2 L697.1,527.2 L694.1,533.2 L690.1,539.2 L684.1,545.2 L677.1,549.8 L669.1,552.2 L661.1,555.2 L651.1,560.2 L643.1,565.2" stroke="#000" stroke-width="0.75"/>
<path d="M691.1,480.2 L696.1,485.2 L701.1,491.2 L704.5,498.2 L705.7,506.2 L704.7,514.2 L702.1,522.2 L699.1,528.2 L695.1,534.2 L695.1,540.2 L689.1,544.2 L683.1,550.2 L675.1,556.2 L667.1,562.2 L661.1,566.2" stroke="#000" stroke-width="0.75"/>
<path d="M689.1,478.2 L697.1,477.6 L705.1,479.2 L711.1,483.2 L717.1,488.2 L722.1,495.2 L725.1,499.2 L729.1,501.2 L732.1,506.2 L736.1,507.2 L740.1,503.2 L744.1,500.2 L746.8,504.2 L748.2,509.2 L751.2,510.6 L755.2,513.2 L759.2,518.2 L763.2,523.2 L767.2,528.2 L770.2,535.2 L774.2,541.2 L777.2,547.2 L778.2,554.2 L776.2,560.2 L777.2,566.2" stroke="#000" stroke-width="1.15"/>
<path d="M774.2,543.2 L772.2,550.2 L773.2,556.2 L776.2,558.2" stroke="#000" stroke-width="0.75"/>
<path d="M705.7,506.2 L710.1,507.2 L714.1,513.2 L718.1,520.2 L722.1,525.8 L727.1,521.8 L732.1,524.2 L737.1,519.2 L743.1,513.2 L747.2,511.2 L750.2,510.2" stroke="#000" stroke-width="0.95"/>
<path d="M585.0,458.1 L589.0,464.2 L594.0,474.2 L597.4,483.2 L596.0,487.2 L592.0,491.2 L589.0,496.2 L587.0,502.2 L586.0,507.2 L588.0,511.2" stroke="#000" stroke-width="1.15"/>
<path d="M594.0,491.2 L605.0,491.2 L613.0,481.2 L615.0,479.8 L614.0,481.2 L622.0,474.2 L631.0,470.6 L641.1,467.8 L645.1,465.8 L648.1,464.6" stroke="#000" stroke-width="0.75"/>
<path d="M585.0,534.2 L615.0,565.2" stroke="#000" stroke-width="0.95"/>
<path d="M772.2,357.7 L777.2,364.1 L785.2,374.1 L794.2,384.1 L791.2,390.1 L785.2,396.1 L777.2,399.1 L773.2,402.1 L775.2,410.1 L779.2,420.1 L783.2,430.1 L785.2,435.1 L789.2,436.1 L793.2,434.1 L800.0,431.1" stroke="#000" stroke-width="0.95"/>
<path d="M396.0,328.0 L395.0,338.0 L392.0,354.0 L387.0,372.0 L382.0,388.1 L378.0,402.1 L375.0,418.1 L373.0,434.1 L371.6,448.1 L370.0,461.1" stroke="#000" stroke-width="0.75"/>
<path d="M419.0,328.0 L422.0,333.0 L430.1,339.0 L439.1,342.4 L448.1,340.0 L456.1,336.0 L460.1,332.0 L462.1,328.0" stroke="#000" stroke-width="0.75"/>
<path d="M486.1,328.0 L490.1,336.0 L496.1,346.0 L500.1,356.0 L502.1,366.0 L501.1,378.0 L500.1,390.1 L503.1,398.1 L508.1,403.1 L512.1,408.1 L519.1,408.1 L524.1,403.7 L530.1,402.5 L538.2,403.1 L543.2,405.1 L542.2,407.1 L547.2,408.1 L549.2,414.1 L548.2,419.1 L551.2,422.1 L554.2,423.7 L550.2,427.1 L546.2,432.1 L543.2,432.1" stroke="#000" stroke-width="0.75"/>
<path d="M546.2,432.1 L540.2,433.1 L537.2,436.1 L536.2,446.1 L530.1,451.1 L524.1,454.1 L518.1,458.1 L512.1,461.1 L507.1,461.7 L506.1,458.1 L500.1,456.1 L495.1,452.1 L491.1,455.1 L487.1,453.1 L482.1,454.1 L478.1,456.1 L476.5,461.1 L477.1,468.1 L479.1,478.1 L481.1,486.1 L485.1,492.2 L488.1,500.2 L492.1,507.2 L494.5,513.2 L493.1,518.2 L489.1,521.2 L488.1,526.2 L490.1,530.2 L485.1,534.2 L484.1,539.2 L487.1,543.2 L491.1,544.2 L495.1,542.2" stroke="#000" stroke-width="0.75"/>
<path d="M481.1,530.2 L485.1,529.2 L487.1,532.2 L484.1,534.2" stroke="#000" stroke-width="0.75"/>
<path d="M496.5,520.2 L498.1,528.2 L501.1,531.2 L508.1,532.2 L502.1,534.2 L498.1,537.2 L496.1,542.2 L495.1,543.2" stroke="#000" stroke-width="1.15"/>
<path d="M495.1,543.2 L492.1,548.2 L488.1,553.2 L484.1,556.2 L480.1,560.2 L477.1,564.2 L475.1,569.2 L473.1,570.6 L470.1,568.2 L466.1,570.2 L463.1,573.2" stroke="#000" stroke-width="0.75"/>
<path d="M546.2,431.1 L552.2,430.5 L560.2,433.1 L567.2,437.1 L572.2,442.1 L577.2,448.1 L581.2,454.1 L585.0,458.1" stroke="#000" stroke-width="1.15"/>
<path d="M574.2,336.0 L570.2,340.0 L568.2,345.0 L569.2,349.0 L574.2,353.0 L580.2,358.0 L585.0,360.0" stroke="#000" stroke-width="0.75"/>
<path d="M585.0,513.2 L576.2,519.2 L560.2,530.2 L546.2,539.2 L532.2,549.2 L518.1,558.2 L506.1,565.2" stroke="#000" stroke-width="0.95"/>
<path d="M514.1,560.2 L504.5,565.8" stroke="#000" stroke-width="0.75"/>
<path d="M506.1,565.2 L504.5,568.2 L506.1,574.2 L508.1,582.2 L507.7,588.2 L510.1,596.2" stroke="#000" stroke-width="0.75"/>
<path d="M370.0,527.8 L374.0,529.2 L379.0,531.2 L384.0,535.2 L390.0,540.2 L396.0,543.2 L406.0,545.8 L420.0,549.2 L434.1,551.2 L438.1,556.2 L441.1,560.2 L444.1,565.2 L448.1,567.2 L454.1,568.2 L459.1,567.2 L464.1,570.2 L463.1,573.2 L461.1,575.2" stroke="#000" stroke-width="0.75"/>
<path d="M370.0,529.0 L374.0,530.4 L378.4,532.4 L383.4,536.4 L389.4,541.4 L395.6,544.4 L406.0,547.0 L420.0,550.4 L433.1,552.4 L436.7,557.2 L439.7,561.2 L443.1,566.6 L447.7,568.4 L454.1,569.4 L458.1,568.8" stroke="#000" stroke-width="0.75"/>
<path d="M409.0,547.2 L410.0,556.2 L411.6,556.2 L411.0,547.8" stroke="#000" stroke-width="0.75"/>
<path d="M421.0,549.8 L422.4,556.2 L423.6,555.8" stroke="#000" stroke-width="0.75"/>
<path d="M434.1,551.2 L434.1,546.6 L435.7,545.2 L436.1,548.2 L434.5,550.6" stroke="#000" stroke-width="0.75"/>
<path d="M433.7,553.2 L435.1,560.2 L437.1,558.2 L439.1,561.2" stroke="#000" stroke-width="0.75"/>
<path d="M461.1,575.2 L464.1,578.2 L468.1,582.2 L472.1,586.2 L475.1,590.2 L476.1,596.2" stroke="#000" stroke-width="0.75"/>
<path d="M459.1,571.2 L462.1,576.2 L466.1,581.2 L470.1,585.2 L473.1,590.2 L474.1,596.2" stroke="#000" stroke-width="0.75"/>
<path d="M478.1,582.2 L479.1,587.2 L484.1,587.8 L490.1,586.2 L498.1,588.2 L506.1,590.2 L514.1,589.2 L522.1,587.8 L530.1,589.2 L540.2,592.2 L548.2,596.2" stroke="#000" stroke-width="0.75"/>
<path d="M599.7,190.0 L595.5,193.6 L591.3,198.4 L588.3,205.5 L585.3,211.5 L581.8,215.1 L581.5,217.4 L583.6,219.8 L583.2,225.8 L581.8,235.3 L580.0,240.1 L577.0,243.7 L574.6,246.1 L574.4,250.9 L575.8,256.8 L577.6,262.8 L578.8,268.8 L574.6,269.4 L572.8,266.4 L570.8,261.6 L571.3,260.4 L574.6,262.8 L575.8,266.4 L577.0,273.5 L578.8,278.9 L580.0,279.7 L579.4,281.3 L581.2,284.3 L581.2,289.0 L579.4,293.8 L580.0,301.0 L581.8,306.9 L582.4,311.7 L581.2,315.9 L578.2,319.5 L580.6,322.5 L581.8,328.4 L580.0,334.4 L575.8,336.2 L571.0,339.8 L568.0,343.3 L567.7,346.3 L568.6,349.9" stroke="#000" stroke-width="0.75"/>
<path d="M557.9,261.6 L560.3,260.4 L562.1,262.2 L565.1,260.4 L569.8,256.2 L574.4,251.5" stroke="#000" stroke-width="1.15"/>
<path d="M800.0,431.9 L807.7,437.0 L815.3,439.6 L825.5,438.3 L829.3,443.4 L838.3,449.8 L842.1,457.5 L844.6,462.6 L851.0,460.0 L856.1,457.5 L860.0,461.3 L866.3,458.2 L871.4,460.8 L880.4,461.3 L879.6,448.5 L884.2,442.1 L889.3,438.3 L905.9,435.3 L919.9,440.9 L931.4,446.0 L930.6,454.1 L932.7,454.9" stroke="#000" stroke-width="0.95"/>
<path d="M800.0,333.7 L808.9,324.3 L820.4,324.8 L829.3,333.2 L845.9,321.0 L853.6,304.4 L849.7,298.0" stroke="#000" stroke-width="0.95"/>
<path d="M993.9,298.0 L1004.1,310.8 L1014.3,323.5 L1019.4,325.6 L1016.9,333.7 L1012.3,344.7 L1018.1,345.2 L1023.2,350.3 L1027.8,356.2 L1027.8,359.2 L1031.6,359.2" stroke="#000" stroke-width="0.95"/>
<path d="M1031.6,360.5 L1027.8,372.0 L1027.1,400.0 L1025.8,425.6 L1024.5,446.0 L1021.4,450.6 L1014.3,449.0 L1004.1,445.5 L993.9,448.5 L987.5,447.2 L981.1,443.4 L976.0,444.2 L965.8,444.7 L953.1,444.2 L944.1,446.0 L937.8,449.8 L932.7,454.9" stroke="#000" stroke-width="0.75"/>
<path d="M932.7,454.9 L936.5,461.3 L935.2,472.8 L941.6,477.9 L947.5,483.7 L941.6,484.7 L937.8,483.7 L935.2,488.1 L925.0,488.8 L927.6,494.4 L931.4,502.1 L930.6,517.4 L937.8,522.5 L950.5,528.9 L963.3,528.9 L972.2,528.9 L972.2,532.7 L983.7,535.3 L996.4,538.6 L1001.5,535.3 L1005.4,526.3 L1008.7,523.3 L1011.8,530.2 L1015.6,541.6 L1022.0,551.8 L1027.1,553.1 L1030.9,560.8 L1032.7,573.5 L1030.4,579.9" stroke="#000" stroke-width="0.75"/>
<path d="M773.2,566.0 L765.2,569.0 L762.8,574.0 L767.2,579.0 L769.2,586.0 L768.2,592.0 L770.2,598.0 L773.2,606.0 L776.2,614.0 L780.2,620.1 L785.2,624.1 L788.2,630.1 L787.2,636.1 L793.2,638.1 L794.8,643.1 L789.2,645.1 L785.2,648.1 L787.2,652.1 L793.2,655.1 L795.6,660.1 L792.2,665.1 L793.2,672.1 L795.2,680.1 L794.8,684.1 L800.0,685.1" stroke="#000" stroke-width="1.15"/>
<path d="M763.2,581.0 L762.2,588.0 L760.8,594.0 L765.2,598.0 L766.2,602.0 L769.2,601.6" stroke="#000" stroke-width="0.75"/>
<path d="M776.2,621.1 L779.2,625.1 L783.2,626.1 L785.2,630.1 L782.2,633.1 L786.2,635.1 L787.2,638.1" stroke="#000" stroke-width="0.75"/>
<path d="M788.2,630.1 L793.2,629.7 L800.0,631.1" stroke="#000" stroke-width="0.95"/>
<path d="M800.0,693.1 L793.2,695.1 L789.2,700.1 L783.2,706.1 L777.2,711.1 L774.2,715.1 L775.2,719.1 L779.2,722.1 L778.8,728.2 L775.2,734.2 L770.2,737.8 L766.2,736.2 L764.2,731.2 L760.2,729.2 L756.2,731.2 L753.2,736.2 L748.2,737.2 L745.1,740.2 L743.1,744.2 L737.1,747.2 L732.1,749.2 L729.5,753.2 L729.1,756.2" stroke="#000" stroke-width="1.15"/>
<path d="M585.0,745.2 L589.0,742.2 L595.0,742.6 L603.0,743.2 L611.0,746.2 L617.0,749.2 L623.0,755.2 L631.0,758.2 L637.4,761.2 L642.1,760.2 L647.1,757.2 L655.1,754.2 L665.1,752.2 L673.1,749.2 L678.1,751.2 L683.1,753.8 L689.1,751.2 L695.1,747.8 L701.1,748.2 L706.1,748.6 L710.1,745.2 L714.1,743.2 L718.1,746.2 L723.1,750.2 L727.1,754.2 L729.1,756.2 L732.1,761.2 L734.1,766.2 L738.1,770.2 L743.1,775.2 L748.2,781.2 L752.2,787.2 L754.8,791.2" stroke="#000" stroke-width="1.15"/>
<path d="M585.0,800.2 L586.0,793.2 L589.0,788.2 L595.0,785.2 L605.0,784.6 L615.0,781.2 L625.0,778.6 L637.0,779.2 L649.1,781.2 L661.1,782.2 L669.1,785.2 L679.1,788.2 L689.1,791.2 L697.1,796.2 L703.1,800.2 L708.1,801.2 L712.1,798.2 L715.1,793.2 L721.1,790.6 L727.1,793.2 L732.1,798.2 L736.1,800.2 L740.1,796.2 L743.1,790.2 L747.2,787.2 L752.2,788.2 L754.8,791.2" stroke="#222" stroke-width="2.7"/>
<path d="M585.0,800.2 L586.0,793.2 L589.0,788.2 L595.0,785.2 L605.0,784.6 L615.0,781.2 L625.0,778.6 L637.0,779.2 L649.1,781.2 L661.1,782.2 L669.1,785.2 L679.1,788.2 L689.1,791.2 L697.1,796.2 L703.1,800.2 L708.1,801.2 L712.1,798.2 L715.1,793.2 L721.1,790.6 L727.1,793.2 L732.1,798.2 L736.1,800.2 L740.1,796.2 L743.1,790.2 L747.2,787.2 L752.2,788.2 L754.8,791.2" stroke="#fff" stroke-width="1.35"/>
<path d="M754.8,791.2 L760.2,792.2 L765.2,796.2 L770.2,799.2 L775.2,802.2 L781.2,801.8 L787.2,804.2 L789.6,801.2 L788.2,796.2 L785.2,792.2 L783.2,786.2 L778.2,783.2 L773.2,782.2 L777.2,779.2 L785.2,777.2 L789.2,779.2 L794.2,781.2 L796.2,785.2 L800.0,786.2" stroke="#000" stroke-width="0.75"/>
<path d="M585.0,641.1 L590.0,645.1 L590.6,654.1 L592.0,660.1 L597.0,662.1 L602.0,664.1 L603.0,669.1 L608.0,673.1 L610.0,676.1 L607.0,681.1 L608.0,685.1 L604.0,685.7 L605.0,690.1 L601.0,696.1 L596.6,699.1 L597.0,703.1 L603.0,704.5 L610.0,702.1 L615.0,698.1 L616.6,692.1 L620.0,690.1 L621.4,698.1 L622.6,706.1 L624.0,714.1 L627.0,718.1 L630.0,722.1 L631.4,730.2 L635.0,736.2 L638.0,742.2 L641.1,749.2 L640.1,756.2 L637.4,761.2" stroke="#000" stroke-width="0.95"/>
<path d="M585.0,624.1 L599.0,619.6 L614.0,615.0 L617.0,610.0 L620.6,598.0 L623.0,589.0 L621.0,588.0 L617.0,582.0 L620.0,577.0 L624.0,575.0" stroke="#000" stroke-width="0.75"/>
<path d="M585.0,626.1 L599.0,621.7 L615.4,617.0 L619.0,611.0 L622.6,599.0 L625.0,590.0 L628.0,586.0 L633.0,581.0 L637.0,578.0 L639.1,574.0 L645.1,575.0 L651.1,571.0 L655.1,568.0 L661.1,566.0" stroke="#000" stroke-width="0.75"/>
<path d="M616.0,566.0 L620.0,572.0 L624.0,575.0 L631.0,575.0 L637.0,573.0 L643.1,568.0 L645.1,566.0" stroke="#000" stroke-width="0.75"/>
<path d="M585.0,819.2 L591.0,820.2 L597.0,818.2 L601.0,813.2 L605.0,810.6 L609.0,813.2 L615.0,816.6 L621.0,814.2 L627.0,811.2 L633.0,812.2 L639.1,815.2 L645.1,816.2 L649.1,820.2 L654.1,826.2 L659.1,831.2 L662.1,834.2" stroke="#000" stroke-width="1.15"/>
<path d="M754.8,791.2 L759.2,794.2 L761.2,798.2 L759.2,802.2 L754.2,805.2 L749.2,808.2 L743.1,810.2 L737.1,809.2 L733.1,808.2 L730.1,812.2 L729.1,817.2 L734.1,820.2 L733.1,823.2 L738.1,826.2 L740.1,834.2" stroke="#000" stroke-width="0.75"/>
<path d="M585.0,768.2 L591.0,774.2 L595.0,783.2 L596.0,785.2" stroke="#000" stroke-width="0.95"/>
<path d="M790.0,628.9 L797.9,631.6 L805.9,633.7 L813.8,632.9 L821.7,632.4 L825.7,634.2 L833.6,633.7 L835.0,628.9 L841.6,627.1 L845.5,625.5 L854.8,627.1 L858.8,632.9 L864.0,642.1 L869.3,646.1 L872.0,651.4 L877.3,654.8 L885.2,653.5 L893.1,654.6 L903.7,651.9 L906.4,655.4 L909.0,660.1 L913.0,656.7 L916.9,658.0 L920.9,656.7 L925.4,659.3 L926.2,669.9 L923.5,675.2 L930.1,677.8 L938.1,680.5 L950.0,680.5" stroke="#000" stroke-width="0.95"/>
<path d="M1029.3,580.0 L1025.3,590.6 L1021.4,599.8 L1021.4,607.8 L1025.3,615.7 L1030.6,621.0 L1031.2,626.3 L1024.0,629.7 L1014.8,630.2 L1009.5,632.9 L1006.8,642.1 L1001.5,650.1 L991.0,654.0 L984.4,660.7 L981.7,669.9 L979.1,676.5 L972.5,679.7 L950.0,680.5" stroke="#000" stroke-width="0.75"/>
<path d="M950.0,680.5 L949.5,688.4 L946.0,692.4 L947.3,696.4 L943.4,699.5 L934.1,701.1 L931.5,706.9 L930.1,712.2 L934.1,715.4 L942.0,717.0 L951.3,722.8 L959.2,729.4 L965.1,734.7 L969.8,736.0 L971.1,743.9 L968.5,747.9 L963.2,750.6 L961.4,757.2 L959.2,763.8 L953.9,769.1 L947.3,774.4 L942.0,778.3 L938.1,775.7 L934.1,770.9 L930.1,769.9 L922.2,773.0 L914.3,777.0 L906.4,779.6 L898.4,783.6 L894.5,784.9 L890.5,787.6 L882.6,792.9 L877.3,796.3 L872.0,798.2 L866.7,792.9 L860.1,793.7 L853.5,791.0 L850.3,791.5 L851.3,796.8 L855.6,800.8 L854.8,810.1 L849.5,806.9 L844.2,806.1 L842.9,800.8 L835.0,800.0 L828.3,799.5 L825.7,792.9 L819.1,790.2 L815.1,792.3 L805.9,792.3 L800.6,792.9 L795.3,787.6 L794.0,782.3 L790.0,778.9" stroke="#000" stroke-width="0.75"/>
<path d="M370.0,639.0 L376.0,637.0 L382.0,633.0 L388.0,634.0 L395.0,632.0 L396.0,637.0 L399.0,643.0 L405.0,639.0 L411.0,634.4 L415.0,636.0 L422.0,634.0 L430.1,629.0 L434.1,626.0 L440.1,623.0 L447.1,624.0 L451.1,619.0 L452.1,613.0 L458.1,611.0 L464.1,608.0 L470.1,604.0 L475.1,601.6 L477.1,600.0" stroke="#000" stroke-width="0.95"/>
<path d="M415.0,636.0 L417.0,642.0 L418.0,647.0 L425.1,652.1 L432.1,658.1 L441.1,664.1 L436.1,666.5 L437.1,673.1 L430.1,672.1 L420.0,673.1 L418.0,678.1 L414.4,682.1 L423.0,688.5 L422.4,696.1 L424.1,705.1 L435.1,705.1 L430.1,710.1 L424.1,715.1 L418.0,722.1 L416.0,728.1 L429.1,727.7 L431.1,733.1 L421.0,735.1 L425.1,742.1 L430.1,750.1 L434.1,756.1 L436.5,762.2" stroke="#000" stroke-width="0.95"/>
<path d="M477.1,600.0 L475.1,612.0 L473.1,626.0 L471.1,640.0 L470.1,656.1 L470.5,666.1 L476.1,672.1 L484.1,679.1 L490.1,684.1 L492.1,692.1 L493.1,700.1 L497.1,710.1 L502.1,720.1 L510.1,729.1 L518.1,733.1 L530.1,738.1 L544.2,745.1 L558.2,752.1 L570.2,759.2 L578.2,764.2 L585.0,768.6" stroke="#000" stroke-width="0.95"/>
<path d="M478.1,612.0 L479.1,615.0 L482.1,611.0 L487.1,609.0 L489.1,612.0 L485.1,611.0 L482.1,614.0 L479.1,616.0 L481.1,621.0 L484.1,626.0 L486.1,631.0 L483.1,634.0 L481.1,640.0 L480.1,645.0 L478.1,647.0 L481.1,649.0 L481.7,654.1 L483.7,662.1 L490.1,660.1 L502.1,656.1 L514.1,655.7 L524.1,657.1 L528.1,648.0 L532.2,636.0 L536.2,626.0 L540.2,618.0 L543.2,612.0 L550.2,613.0 L556.2,615.0 L562.2,616.0" stroke="#000" stroke-width="0.95"/>
<path d="M538.2,596.0 L544.2,600.0 L552.2,603.0 L558.2,605.0 L564.2,610.0 L570.2,616.0 L576.2,622.0 L585.0,626.0" stroke="#000" stroke-width="0.75"/>
<path d="M551.2,607.0 L553.2,611.0 L560.2,615.0 L568.2,618.0 L574.2,623.0 L580.2,626.0" stroke="#000" stroke-width="0.75"/>
<path d="M585.0,624.0 L579.2,628.0 L578.2,639.0 L582.2,641.0" stroke="#000" stroke-width="0.75"/>
<path d="M370.0,784.2 L378.0,783.2 L386.0,780.2 L396.0,776.2 L404.0,772.2 L412.0,768.2 L420.0,764.2 L428.1,761.8 L436.5,762.2 L444.1,761.2 L450.1,759.2 L452.1,754.1 L456.1,751.1 L462.1,753.1 L466.1,749.1 L470.1,746.1 L474.1,747.1 L479.1,750.1 L483.1,745.1 L488.1,740.1 L494.1,736.1 L500.1,735.1 L506.1,738.1 L509.1,744.1 L512.1,749.1 L518.1,751.1 L524.1,754.1 L530.1,751.1 L534.2,746.1 L538.2,747.1 L544.2,750.1 L550.2,753.1 L556.2,755.1 L562.2,753.1 L568.2,750.1 L574.2,748.1 L580.2,746.1 L585.0,745.1" stroke="#222" stroke-width="2.0"/>
<path d="M370.0,784.2 L378.0,783.2 L386.0,780.2 L396.0,776.2 L404.0,772.2 L412.0,768.2 L420.0,764.2 L428.1,761.8 L436.5,762.2 L444.1,761.2 L450.1,759.2 L452.1,754.1 L456.1,751.1 L462.1,753.1 L466.1,749.1 L470.1,746.1 L474.1,747.1 L479.1,750.1 L483.1,745.1 L488.1,740.1 L494.1,736.1 L500.1,735.1 L506.1,738.1 L509.1,744.1 L512.1,749.1 L518.1,751.1 L524.1,754.1 L530.1,751.1 L534.2,746.1 L538.2,747.1 L544.2,750.1 L550.2,753.1 L556.2,755.1 L562.2,753.1 L568.2,750.1 L574.2,748.1 L580.2,746.1 L585.0,745.1" stroke="#fff" stroke-width="0.55"/>
<path d="M452.1,754.1 L453.1,762.2 L457.1,768.2 L459.1,774.2 L464.1,779.2 L469.1,780.2 L469.5,790.2 L474.1,789.2 L477.1,788.2 L477.7,798.2 L486.1,798.2 L485.1,794.2 L490.1,793.2 L493.1,788.2 L498.1,785.2 L502.1,784.2 L506.1,776.2 L510.1,768.2 L514.1,760.2 L518.5,751.1" stroke="#000" stroke-width="0.95"/>
<path d="M477.7,798.2 L469.1,798.6 L470.1,804.2 L478.1,806.2 L478.5,814.2" stroke="#000" stroke-width="0.95"/>
<path d="M370.0,820.2 L374.0,815.2 L380.0,813.2 L390.0,814.2 L400.0,816.2 L410.0,817.2 L422.0,815.8 L436.1,816.2 L446.1,812.2 L454.1,811.2 L464.1,813.2 L474.1,815.2 L482.1,814.2 L490.1,812.2 L498.1,813.2 L506.1,816.2 L514.1,817.2 L522.1,819.2 L530.1,817.8 L540.2,815.2 L550.2,813.2 L558.2,815.2 L562.2,820.2 L568.2,822.2 L574.2,818.2 L578.2,811.2 L582.2,804.2 L585.0,796.2" stroke="#222" stroke-width="2.7"/>
<path d="M370.0,820.2 L374.0,815.2 L380.0,813.2 L390.0,814.2 L400.0,816.2 L410.0,817.2 L422.0,815.8 L436.1,816.2 L446.1,812.2 L454.1,811.2 L464.1,813.2 L474.1,815.2 L482.1,814.2 L490.1,812.2 L498.1,813.2 L506.1,816.2 L514.1,817.2 L522.1,819.2 L530.1,817.8 L540.2,815.2 L550.2,813.2 L558.2,815.2 L562.2,820.2 L568.2,822.2 L574.2,818.2 L578.2,811.2 L582.2,804.2 L585.0,796.2" stroke="#fff" stroke-width="1.35"/>
<path d="M370.0,792.2 L374.0,796.2 L378.0,804.2 L380.0,809.2 L379.0,813.2" stroke="#000" stroke-width="1.15"/>
<path d="M472.1,816.2 L476.1,821.2 L482.1,824.2 L486.1,829.2 L492.1,832.2 L498.1,830.2 L504.1,834.2 L508.1,839.2 L507.1,845.2 L505.1,850.2 L510.1,851.2 L518.1,850.2 L528.1,851.2 L538.2,852.2 L548.2,851.2 L558.2,847.2 L566.2,842.2 L570.2,834.2 L572.2,826.2 L576.2,820.6 L580.2,817.8 L585.0,819.2" stroke="#000" stroke-width="1.15"/>
<path d="M507.1,845.2 L514.1,843.2 L520.1,844.2 L521.1,846.2" stroke="#000" stroke-width="0.75"/>
<path d="M370.0,863.2 L382.0,861.2 L396.0,858.2 L410.0,857.2 L422.0,859.2 L430.1,860.2 L440.1,859.8 L450.1,858.2 L460.1,860.2 L470.1,863.2 L482.1,862.2 L494.1,858.2 L502.1,853.2 L508.1,850.2" stroke="#000" stroke-width="1.15"/>
<path d="M384.0,728.1 L387.0,734.1 L390.0,733.1 L396.0,731.1" stroke="#000" stroke-width="1.15"/>
<path d="M387.0,734.1 L385.0,739.1 L378.0,743.1 L373.0,747.1 L370.0,750.1" stroke="#000" stroke-width="1.15"/>
<path d="M370.0,751.1 L373.0,756.1 L372.0,762.2 L370.0,764.2" stroke="#000" stroke-width="0.75"/>
<path d="M332.2,596.0 L327.2,608.0 L321.2,622.0 L314.1,636.0 L305.1,651.1 L295.1,664.1 L285.1,676.1 L275.1,687.1 L267.1,696.1 L259.1,705.1 L251.1,714.1 L241.1,724.1 L233.1,732.1 L227.1,737.1 L223.1,739.1" stroke="#000" stroke-width="0.75"/>
<path d="M267.1,688.5 L270.1,688.1 L271.5,690.1 L269.1,690.5 Z" stroke="#000" stroke-width="0.75"/>
<path d="M289.9,778.6 L295.1,778.2 L303.1,777.2 L311.1,776.2 L319.2,777.2 L325.2,776.2 L331.2,772.2 L335.2,771.2 L338.2,774.2 L339.2,777.2 L343.2,778.6 L347.2,776.2 L352.2,772.2 L357.2,770.2 L363.2,768.2 L367.2,764.2 L370.0,763.2" stroke="#000" stroke-width="0.75"/>
<path d="M285.1,793.2 L287.1,786.2 L288.1,793.2 L291.1,798.2 L297.1,802.2 L305.1,804.2 L313.1,806.2 L321.2,807.2 L329.2,806.2 L335.2,807.2 L343.2,808.2 L349.2,811.2 L352.2,816.2 L355.2,819.2 L361.2,821.2 L367.2,823.2 L370.0,824.2" stroke="#000" stroke-width="0.75"/>
<path d="M292.1,777.2 L294.1,775.2 L297.1,777.2 L300.1,774.8 L304.1,776.8 L309.1,773.8 L315.1,774.8" stroke="#000" stroke-width="1.15"/>
<path d="M291.1,783.2 L295.1,781.2 L296.1,786.2 L300.1,782.2 L303.1,786.2" stroke="#000" stroke-width="1.15"/>
<path d="M305.1,781.2 L313.1,783.2 L307.1,785.2 L315.1,787.2 L309.1,789.2" stroke="#000" stroke-width="1.15"/>
<path d="M315.1,781.2 L321.2,780.2 L319.2,785.2 L325.2,779.2 L330.2,777.2 L333.2,773.2" stroke="#000" stroke-width="1.15"/>
<path d="M214.7,798.2 L213.1,804.2 L208.6,809.2 L207.4,811.2" stroke="#000" stroke-width="0.75"/>
<path d="M155.0,813.2 L161.0,810.2 L171.0,808.2 L181.0,805.2 L189.0,802.2 L195.0,799.8 L200.0,799.2 L197.0,802.2" stroke="#000" stroke-width="0.75"/>
<path d="M197.0,802.2 L201.0,804.2 L205.0,808.2 L208.0,811.2 L213.1,814.2 L219.1,817.2" stroke="#000" stroke-width="1.15"/>
<path d="M219.1,817.2 L227.1,822.2 L235.1,827.2 L245.1,833.2 L253.1,838.2 L259.1,844.2 L263.1,850.2 L269.1,855.2 L275.1,858.2 L283.1,860.2 L295.1,862.2 L305.1,864.2" stroke="#000" stroke-width="0.75"/>
<path d="M214.7,798.2 L219.1,804.2 L225.1,808.2 L232.1,812.2 L235.1,811.2 L239.1,812.2 L245.1,817.2 L251.1,822.2 L257.1,827.2 L261.1,829.2" stroke="#000" stroke-width="0.75"/>
<path d="M261.1,829.2 L264.1,826.2 L266.1,822.2 L271.1,819.2 L275.1,819.8 L283.1,816.2 L291.1,812.2 L299.1,809.2 L307.1,807.2 L313.1,806.2" stroke="#000" stroke-width="1.15"/>
<path d="M261.1,829.2 L267.1,833.2 L275.1,838.2 L285.1,843.2 L295.1,848.2 L303.1,853.2 L307.1,858.2 L305.1,864.2" stroke="#000" stroke-width="0.75"/>
<path d="M266.1,844.2 L271.1,842.2 L279.1,844.2 L287.1,847.2 L292.1,850.2 L293.1,853.2 L289.1,854.6 L281.1,853.2 L273.1,850.2 L267.1,847.2 Z" stroke="#000" stroke-width="0.75"/>
<path d="M234.1,821.2 L238.1,820.6" stroke="#000" stroke-width="1.15"/>
<path d="M155.0,813.2 L157.0,814.2 L158.0,818.2 L156.0,822.2 L155.0,826.2" stroke="#000" stroke-width="0.75"/>
<path d="M155.0,826.2 L161.0,824.2 L167.0,821.2 L175.0,819.8 L183.0,818.6 L187.0,819.8 L193.0,822.2 L198.0,826.2 L201.0,832.2 L202.6,838.2 L203.0,845.2 L205.0,846.2 L204.0,850.2 L206.0,855.2 L209.1,860.2 L213.1,864.2" stroke="#000" stroke-width="0.75"/>
<path d="M169.0,833.2 L179.0,824.2 L187.0,832.2 L177.0,835.2 Z" stroke="#000" stroke-width="0.75"/>
<path d="M177.0,845.2 L183.0,843.2 L189.0,846.2 L185.0,848.6 L179.0,848.2 Z" stroke="#000" stroke-width="0.75"/>
<path d="M191.0,840.2 L194.0,839.2 L197.0,846.2 L199.0,852.2 L196.0,853.2 L193.0,846.2 Z" stroke="#000" stroke-width="0.75"/>
<path d="M155.0,846.2 L165.0,844.2 L173.0,848.2 L181.0,851.2 L188.0,851.2 L190.0,856.2 L193.0,862.2" stroke="#000" stroke-width="0.75"/>
<path d="M159.0,829.2 L165.0,830.6 L166.6,826.2" stroke="#000" stroke-width="0.75"/>
<path d="M367.2,596.0 L361.2,606.0 L356.2,614.0 L354.2,622.0 L355.2,630.0 L349.2,633.0 L351.2,637.0 L359.2,639.0 L365.2,639.6 L370.0,639.0" stroke="#000" stroke-width="0.95"/>
<path d="M348.2,596.0 L354.2,598.0 L355.2,596.0" stroke="#000" stroke-width="0.95"/>
<path d="M372.6,440.0 L370.8,458.2 L367.8,478.7 L364.2,498.1 L360.5,512.6 L356.9,523.5 L353.3,530.2 L353.0,536.8 L350.8,546.5 L347.2,556.2 L342.4,568.3 L337.5,580.4 L334.5,588.3 L331.5,594.9 L328.4,602.0" stroke="#000" stroke-width="0.75"/>
<path d="M348.4,527.4 L355.7,527.4" stroke="#000" stroke-width="1.15"/>
<path d="M345.4,530.2 L347.8,532.0 L353.3,530.2 L358.1,529.6 L359.9,532.0 L361.1,530.8" stroke="#000" stroke-width="1.15"/>
<path d="M358.7,528.4 L362.9,525.7 L367.8,526.5 L372.6,527.8" stroke="#000" stroke-width="1.15"/>
<path d="M359.3,530.2 L362.9,527.8 L366.6,529.0 L372.6,529.0" stroke="#000" stroke-width="1.15"/>
<path d="M334.5,588.3 L339.9,591.3 L346.0,594.3 L352.7,598.0 L354.5,594.9 L359.3,594.0 L364.2,594.7 L366.0,597.4 L364.2,602.0" stroke="#000" stroke-width="0.95"/>
<path d="M158.1,844.0 L148.1,845.0 L138.1,844.0 L128.1,846.0 L118.1,848.0 L111.1,853.0 L108.1,860.0 L108.1,867.0 L111.1,873.0 L116.1,877.0 L120.1,877.6 L128.1,873.0 L136.1,869.0 L140.1,866.0 L143.1,865.6 L145.7,868.0 L144.1,871.0 L150.1,872.0 L156.1,875.0 L160.1,878.0 L163.2,884.1 L165.2,892.1 L170.2,895.1 L174.2,897.1 L177.2,893.7 L180.2,897.1 L184.2,901.1 L190.2,902.1 L200.2,899.1 L208.2,896.1 L215.0,894.1" stroke="#000" stroke-width="0.75"/>
<path d="M158.1,844.0 L160.1,838.0 L158.1,834.0 L152.1,837.0 L148.1,841.0 L147.1,845.0" stroke="#000" stroke-width="0.75"/>
<path d="M170.2,834.0 L176.2,831.0 L186.2,830.0" stroke="#000" stroke-width="0.75"/>
<path d="M170.2,850.0 L176.2,849.0 L174.2,846.0 L170.2,847.0 Z" stroke="#000" stroke-width="0.75"/>
<path d="M178.2,845.0 L184.2,843.6 L189.2,846.0 L184.2,848.0 L179.2,847.6 Z" stroke="#000" stroke-width="0.75"/>
<path d="M191.2,841.0 L195.2,840.0 L198.2,850.0 L197.2,853.0 L194.2,851.0 Z" stroke="#000" stroke-width="0.75"/>
<path d="M202.2,838.0 L205.2,846.0 L208.2,854.0 L212.2,859.0 L215.0,860.0" stroke="#000" stroke-width="0.75"/>
<path d="M158.1,844.0 L168.2,846.0 L180.2,850.0 L188.2,850.0 L192.2,858.0 L198.2,864.0 L204.2,870.0 L210.2,875.0 L215.0,877.0" stroke="#000" stroke-width="0.75"/>
<path d="M120.1,877.6 L119.1,883.0 L118.1,886.1" stroke="#000" stroke-width="1.15"/>
<path d="M112.1,889.1 L116.1,890.1 L120.1,894.1 L117.1,896.1 L113.1,895.1 L109.1,898.1 L104.1,899.1 L108.1,901.1 L107.1,907.1" stroke="#000" stroke-width="1.15"/>
<path d="M107.1,907.1 L100.1,910.1 L94.1,912.5 L88.1,911.1 L80.1,909.1 L72.1,911.1 L64.1,915.1 L56.1,920.1 L48.0,925.1 L41.0,930.1 L37.6,935.1 L38.0,940.1 L43.0,946.1 L50.0,952.1 L56.1,958.1 L60.1,964.1 L64.1,970.1 L70.1,974.1 L77.1,977.1 L80.1,977.1" stroke="#000" stroke-width="0.75"/>
<path d="M107.1,907.1 L112.1,909.1 L118.1,911.1 L124.1,909.1 L132.1,907.1 L140.1,906.1 L148.1,906.1 L156.1,908.1 L161.1,912.1 L164.2,919.1 L165.2,925.1 L160.1,928.1 L157.1,934.1" stroke="#000" stroke-width="0.75"/>
<path d="M93.1,912.5 L91.7,916.1 L94.1,921.1 L98.1,925.1 L102.1,930.1 L104.1,936.1 L108.1,941.1 L112.1,944.1 L116.1,942.1 L119.1,937.1 L122.1,933.1 L128.1,930.1 L136.1,928.5 L144.1,927.7 L150.1,928.1 L154.1,932.1 L157.1,934.1" stroke="#000" stroke-width="0.75"/>
<path d="M97.1,912.5 L100.1,919.1 L104.1,924.1 L109.1,930.1 L112.1,936.1 L115.1,939.1 L118.1,935.1 L122.1,931.1 L130.1,932.1 L138.1,931.1 L144.1,929.7" stroke="#000" stroke-width="0.75"/>
<path d="M106.1,926.1 L110.1,922.1 L111.1,929.1 L108.1,934.1 L112.1,939.1 L117.1,938.1" stroke="#000" stroke-width="1.15"/>
<path d="M124.1,932.1 L128.1,928.5 L132.1,929.7 L128.1,932.5 Z" stroke="#000" stroke-width="0.75"/>
<path d="M104.1,931.1 L101.1,938.1 L98.1,943.1 L93.1,948.1 L88.1,952.1 L85.1,956.1 L83.1,963.1 L81.1,970.1 L79.1,976.1" stroke="#000" stroke-width="1.15"/>
<path d="M157.1,934.1 L164.2,933.1 L172.2,934.1 L176.2,939.1 L182.2,941.1 L189.2,942.1 L195.2,945.1 L200.2,948.1 L206.2,950.1 L209.2,958.1 L210.2,966.1 L215.0,972.1" stroke="#000" stroke-width="0.75"/>
<path d="M80.1,977.1 L88.1,977.7 L94.1,976.1 L99.1,972.5 L104.1,970.1 L109.1,968.1 L111.7,962.1 L115.1,967.1 L112.1,970.1 L109.1,972.1 L114.1,973.1 L115.7,977.1 L112.1,976.1 L108.1,974.1 L108.1,976.1 L111.1,980.1 L114.1,984.1 L116.1,989.1 L120.1,991.1 L128.1,992.2 L134.1,996.2 L140.1,1001.2 L144.1,1003.2 L152.1,1001.8 L160.1,1000.2 L166.2,998.2 L169.2,988.1 L172.2,978.1 L174.2,975.1 L181.2,973.1 L187.2,971.1 L192.2,976.1 L197.2,980.1 L202.2,983.1 L208.2,986.1 L212.2,990.1 L215.0,991.1" stroke="#000" stroke-width="0.75"/>
<path d="M197.2,945.1 L195.2,954.1 L194.6,964.1 L195.8,973.1 L197.8,980.1" stroke="#000" stroke-width="1.15"/>
<path d="M18.0,1006.2 L26.0,1001.2 L37.0,998.2 L38.0,1000.2 L40.0,997.8 L48.0,995.2 L56.1,991.8 L64.1,992.2 L69.1,994.2 L70.1,996.2 L75.1,999.2 L80.1,1002.2 L88.1,1004.2 L98.1,1006.2 L104.1,1008.2 L109.1,1012.2 L115.1,1016.2 L120.1,1017.2 L125.1,1019.2 L126.1,1023.2 L130.1,1018.2 L134.1,1019.2 L138.1,1022.2 L144.1,1023.2 L150.1,1025.2 L154.1,1025.2 L158.1,1021.2 L163.2,1017.2 L170.2,1014.2 L178.2,1011.2 L181.2,1004.2 L183.2,998.2 L186.2,994.6 L190.2,994.2 L191.2,996.2 L197.2,997.2 L200.2,1001.2 L203.2,1007.2 L206.2,1011.2 L212.2,1013.2 L215.0,1013.2" stroke="#000" stroke-width="0.75"/>
<path d="M18.0,1006.2 L19.6,1014.2 L22.0,1022.2 L18.0,1026.2 L14.4,1030.2 L17.0,1036.2 L17.0,1040.2 L20.0,1044.2 L20.0,1047.2 L25.0,1052.2 L30.0,1056.2 L33.0,1062.2 L40.0,1064.2 L50.0,1063.8 L60.1,1062.6 L59.1,1054.2 L58.1,1045.2 L63.1,1044.2 L66.1,1042.2 L70.1,1043.2 L76.1,1040.2 L78.1,1038.2 L86.1,1041.2 L94.1,1044.2 L102.1,1048.2 L112.1,1051.2 L122.1,1054.2 L128.1,1057.2 L132.1,1060.2 L134.1,1065.2 L133.7,1072.2 L134.5,1078.2 L138.1,1080.2 L144.1,1079.2 L152.1,1078.2 L158.1,1076.2 L161.1,1079.2 L159.1,1083.2 L162.2,1084.6 L168.2,1083.2 L172.2,1078.2 L176.2,1079.2 L181.2,1077.2 L186.2,1073.2 L192.2,1070.2 L198.2,1067.2 L204.2,1066.2 L209.2,1064.2 L215.0,1062.2" stroke="#000" stroke-width="0.75"/>
<path d="M140.1,1022.2 L142.1,1028.2 L143.1,1036.2 L146.1,1042.2 L148.1,1050.2 L147.1,1056.2 L143.1,1063.2 L139.1,1070.2 L137.1,1076.2 L137.1,1079.2" stroke="#000" stroke-width="1.15"/>
<path d="M152.1,1026.2 L153.1,1032.2 L156.1,1037.2 L160.1,1040.2 L164.2,1043.2" stroke="#000" stroke-width="1.15"/>
<path d="M239.0,830.0 L247.0,834.0 L255.0,840.0 L261.0,846.0 L267.0,854.0 L273.1,860.0 L281.1,864.0 L291.1,865.6 L299.1,863.0 L305.1,858.0 L306.1,856.0" stroke="#000" stroke-width="0.75"/>
<path d="M267.0,845.0 L273.1,842.4 L281.1,844.0 L289.1,848.0 L293.1,852.0 L289.1,854.4 L281.1,854.0 L273.1,851.0 L268.0,848.0 Z" stroke="#000" stroke-width="0.75"/>
<path d="M259.0,830.0 L267.0,836.0 L277.1,842.0 L287.1,847.0 L297.1,853.0 L306.1,857.0 L315.1,859.6 L325.1,860.4 L335.1,862.0 L343.1,863.0 L351.1,862.0 L359.1,860.0 L365.1,858.0 L369.1,856.0" stroke="#000" stroke-width="0.75"/>
<path d="M306.1,864.0 L311.1,866.0 L319.1,869.0 L327.1,871.0 L335.1,873.0 L343.1,872.0 L351.1,870.0 L359.1,868.0 L365.1,865.0 L369.1,862.0 L375.1,860.0 L385.2,858.0 L395.2,856.4 L405.2,858.0 L415.2,861.0 L423.2,863.0 L430.0,864.0" stroke="#000" stroke-width="0.75"/>
<path d="M293.1,867.0 L297.1,870.0 L303.1,869.0 L307.1,867.0 L311.1,867.0" stroke="#000" stroke-width="1.15"/>
<path d="M304.1,860.0 L305.5,868.0 L303.1,873.0" stroke="#000" stroke-width="1.15"/>
<path d="M368.7,856.0 L371.1,861.6" stroke="#000" stroke-width="1.15"/>
<path d="M370.7,855.6 L373.1,861.0" stroke="#000" stroke-width="1.15"/>
<path d="M352.1,868.0 L359.1,866.4" stroke="#000" stroke-width="1.15"/>
<path d="M353.1,871.0 L354.1,878.0" stroke="#000" stroke-width="1.15"/>
<path d="M357.1,871.0 L358.7,876.0" stroke="#000" stroke-width="1.15"/>
<path d="M362.1,869.0 L364.1,872.0" stroke="#000" stroke-width="1.15"/>
<path d="M367.1,830.0 L368.1,840.0 L369.1,850.0 L370.1,856.0" stroke="#000" stroke-width="1.15"/>
<path d="M407.2,860.0 L415.2,858.0 L423.2,862.0 L430.0,863.0" stroke="#000" stroke-width="1.15"/>
<path d="M306.1,857.0 L303.1,864.0 L304.1,873.0 L301.1,880.0 L297.1,886.1 L289.1,889.1 L279.1,891.1 L271.1,893.1 L265.0,895.1 L258.0,897.1" stroke="#000" stroke-width="0.75"/>
<path d="M297.1,886.1 L295.1,876.0 L291.1,880.0 L283.1,883.0 L275.1,885.1 L267.0,884.1 L260.0,881.0 L255.0,877.0 L249.0,873.0 L243.0,872.0 L239.0,873.0" stroke="#000" stroke-width="0.75"/>
<path d="M297.1,887.1 L301.1,890.1 L305.1,894.1 L309.1,898.1 L313.1,901.1 L315.1,904.1 L319.1,905.1" stroke="#000" stroke-width="1.15"/>
<path d="M264.0,896.1 L268.0,901.1 L273.1,905.1 L279.1,906.1 L282.1,909.1 L286.1,909.1" stroke="#000" stroke-width="1.15"/>
<path d="M282.1,907.1 L279.1,912.5" stroke="#000" stroke-width="1.15"/>
<path d="M258.0,897.1 L252.0,900.1 L248.0,904.1 L246.6,910.1 L249.0,916.1 L254.0,922.1 L258.0,928.1 L258.6,934.1 L258.0,939.1 L256.0,944.1 L254.0,950.1" stroke="#000" stroke-width="1.15"/>
<path d="M215.0,942.1 L223.0,943.1 L231.0,943.1 L237.0,945.1 L241.0,948.1 L245.0,951.1 L250.0,955.1 L255.0,958.1" stroke="#000" stroke-width="0.75"/>
<path d="M239.0,949.1 L242.0,952.1 L245.0,950.1 L249.0,953.1" stroke="#000" stroke-width="1.15"/>
<path d="M215.0,972.1 L221.0,978.1 L229.0,984.1 L235.0,983.1 L243.0,979.1 L251.0,981.1 L256.0,983.1" stroke="#000" stroke-width="0.75"/>
<path d="M215.0,994.2 L223.0,997.2 L231.0,1000.2 L237.0,999.2 L245.0,997.2 L253.0,1000.2 L258.0,1002.2" stroke="#000" stroke-width="0.75"/>
<path d="M255.0,951.1 L255.0,960.1 L256.0,974.1 L257.4,988.1 L258.6,998.2 L259.4,1003.2" stroke="#000" stroke-width="1.15"/>
<path d="M253.4,958.1 L254.6,974.1 L256.2,988.1 L257.8,1000.2" stroke="#000" stroke-width="1.15"/>
<path d="M258.0,952.1 L263.0,955.1 L268.0,958.1 L270.7,962.1 L269.1,964.1 L265.0,960.1 L262.0,958.1" stroke="#000" stroke-width="0.75"/>
<path d="M263.0,970.1 L269.1,968.1 L272.1,972.1 L271.1,978.1 L267.0,980.1" stroke="#000" stroke-width="0.75"/>
<path d="M266.0,980.1 L268.0,988.1 L266.6,996.2 L267.4,1004.2 L269.1,1008.2" stroke="#000" stroke-width="0.75"/>
<path d="M262.0,972.1 L264.0,971.1 L265.0,974.1 L263.0,975.1 Z" stroke="#000" stroke-width="0.75"/>
<path d="M259.4,1003.2 L263.0,1008.2 L269.1,1008.8 L285.1,1009.2 L286.7,1018.2 L295.1,1019.2 L303.1,1018.2 L310.1,1014.2 L312.1,1011.2 L309.1,1006.2 L305.1,1000.2 L301.1,993.2 L299.1,990.1 L302.1,987.1 L301.1,982.1 L298.7,979.1 L305.1,975.1 L315.1,970.1 L323.1,967.1 L331.1,965.1 L341.1,963.1 L344.7,967.1 L342.1,973.1 L340.1,980.1 L341.1,990.1 L351.1,985.1 L361.1,987.1 L370.1,990.1 L376.8,988.1 L377.6,981.1 L385.2,976.1 L391.2,970.1 L397.2,962.1 L402.2,957.1 L407.2,955.1 L413.2,956.1 L419.2,960.1 L421.2,965.1 L425.2,968.1 L424.2,976.1 L421.2,984.1 L420.2,988.1 L425.2,992.2 L417.2,989.1 L410.2,987.1 L406.2,989.1 L406.2,993.2 L410.2,996.2 L417.2,995.2 L423.2,994.2 L430.0,995.2" stroke="#000" stroke-width="0.75"/>
<path d="M225.0,1017.2 L229.0,1014.2 L233.0,1017.2 L230.0,1021.2 L235.0,1022.2 L237.0,1016.2 L241.0,1014.2 L244.0,1017.2 L247.0,1011.2 L251.0,1012.2 L249.0,1017.2 L243.0,1020.2 L239.0,1026.2 L234.0,1028.2 L230.0,1025.2 L227.0,1020.2" stroke="#000" stroke-width="1.15"/>
<path d="M239.0,1010.2 L247.0,1013.2 L253.0,1017.2 L257.0,1021.2 L251.0,1027.2 L243.0,1034.2 L235.0,1042.2 L227.0,1050.2 L219.0,1058.2 L215.0,1062.2" stroke="#000" stroke-width="0.75"/>
<path d="M400.0,956.8 L406.3,953.8 L412.6,956.8 L418.9,958.6 L423.9,964.4 L425.1,974.4 L421.4,980.7 L420.6,989.5 L423.9,992.0 L415.1,988.8 L408.8,986.5 L405.0,988.3 L405.5,993.3 L411.3,995.8 L420.1,995.1 L427.7,994.6 L432.7,995.8 L437.7,993.8 L442.7,997.1 L445.8,1002.8 L449.0,1002.1 L454.1,995.8 L460.3,989.5 L466.6,984.5 L471.6,979.5 L471.6,973.2 L474.2,966.9 L479.2,962.4 L480.9,968.2 L490.5,969.4 L494.3,978.2 L498.0,987.8 L493.0,995.8 L488.7,1003.9 L495.5,1012.2 L501.8,1019.7 L505.1,1024.7 L505.6,1037.3 L513.1,1040.3 L518.2,1038.0 L524.4,1035.5 L530.7,1039.1 L536.3,1043.1 L534.5,1051.1 L532.0,1059.9 L535.8,1062.4 L542.0,1060.7 L550.8,1062.4 L563.4,1061.2 L565.2,1056.6 L576.0,1059.4 L584.8,1062.4" stroke="#000" stroke-width="0.75"/>
<path d="M663.1,834.0 L669.1,837.0 L673.1,841.0 L679.1,844.0 L685.1,844.4 L693.1,843.0 L701.1,842.0 L706.1,841.0 L710.1,844.0 L712.1,850.0 L713.1,856.0 L719.1,859.0 L725.1,860.0 L731.1,862.0 L733.1,868.0 L734.1,876.0 L733.1,881.0 L737.1,883.0 L738.1,887.0 L736.1,891.1 L740.1,894.1 L745.1,898.1 L749.2,903.1 L751.2,910.1 L753.2,916.1 L755.2,922.1 L756.2,929.1 L759.2,931.1 L765.2,933.1 L771.2,935.1 L776.2,937.1 L779.2,942.1 L785.2,947.1 L790.2,951.1 L792.2,957.1 L794.2,964.1 L794.8,970.1 L791.2,976.1 L789.2,982.1 L788.2,990.1 L787.2,996.2 L789.2,1003.2 L792.2,1011.2 L789.2,1017.2 L784.2,1022.2 L779.2,1027.2 L777.2,1034.2 L774.2,1040.2 L769.2,1044.2 L761.2,1049.2 L755.2,1054.2 L751.2,1059.2 L748.2,1061.2 L747.6,1067.2 L745.1,1073.2 L741.1,1078.2 L737.1,1084.2 L733.1,1090.2 L728.1,1094.2 L725.1,1098.2 L723.1,1102.2" stroke="#000" stroke-width="1.15"/>
<path d="M741.1,1078.2 L742.1,1086.2 L739.1,1093.2 L735.1,1095.2 L730.1,1094.2" stroke="#000" stroke-width="1.15"/>
<path d="M705.1,838.0 L706.1,842.0" stroke="#000" stroke-width="1.15"/>
<path d="M707.1,836.0 L710.1,834.0" stroke="#000" stroke-width="0.75"/>
<path d="M741.1,834.0 L739.1,840.0 L733.1,844.0 L731.1,849.0 L737.1,851.0 L745.1,853.0 L751.2,857.0 L756.2,861.0 L752.2,863.0 L752.8,871.0 L754.2,879.0 L761.2,882.0 L769.2,885.0 L776.2,887.0 L774.2,896.1 L772.2,903.1 L770.2,909.1 L775.2,914.1 L780.2,919.1 L785.2,926.1 L790.2,934.1 L795.2,940.1 L800.0,943.1" stroke="#000" stroke-width="0.75"/>
<path d="M715.1,834.0 L721.1,840.0 L725.1,846.0 L729.1,849.0 L732.1,847.0" stroke="#000" stroke-width="0.75"/>
<path d="M756.2,930.1 L753.2,932.1 L746.8,925.7 L739.1,929.1 L731.1,931.7 L725.1,933.1 L719.1,933.1 L715.1,929.7 L707.1,928.1 L700.7,927.1 L702.1,940.1 L705.1,954.1 L708.1,964.1 L710.1,977.1 L715.1,986.1 L721.1,997.2 L726.7,1007.2 L719.1,1014.2 L711.1,1021.2 L697.1,1025.2 L683.1,1029.8 L669.1,1034.2 L655.1,1038.6 L649.1,1046.2 L643.1,1055.2 L642.1,1064.2 L640.1,1077.2 L625.0,1080.6" stroke="#000" stroke-width="0.95"/>
<path d="M585.0,1061.2 L589.0,1055.2 L595.0,1052.2 L600.0,1049.2 L603.0,1045.2 L611.0,1047.2 L615.0,1052.2 L619.0,1056.2 L623.0,1061.2 L624.0,1070.2 L625.0,1080.6" stroke="#000" stroke-width="0.75"/>
<path d="M800.0,1025.2 L793.2,1029.2 L789.2,1038.2 L783.2,1050.2 L777.2,1060.2 L771.2,1066.2 L766.2,1071.2 L769.2,1077.2 L765.2,1080.2 L766.2,1088.2 L768.2,1096.2 L770.2,1101.2" stroke="#000" stroke-width="0.75"/>
<path d="M747.1,1072.0 L742.1,1077.0 L736.1,1084.0 L730.1,1090.0 L725.1,1096.0 L720.1,1102.0 L715.1,1107.0 L713.7,1112.0 L710.1,1120.0 L704.1,1132.1 L698.1,1144.1 L693.1,1154.1 L689.1,1164.1 L684.1,1176.1 L680.1,1186.1 L678.1,1192.1 L680.1,1198.1 L677.1,1204.1 L673.0,1214.1 L669.0,1224.1 L665.0,1232.1 L663.0,1238.2 L662.6,1246.2 L663.0,1256.2 L662.6,1264.2 L663.6,1272.2 L664.0,1275.2" stroke="#000" stroke-width="1.15"/>
<path d="M741.1,1078.0 L742.5,1084.0 L740.1,1091.0 L736.1,1094.0 L732.1,1093.0" stroke="#000" stroke-width="1.15"/>
<path d="M726.1,1097.0 L729.1,1100.0 L733.1,1101.0 L734.1,1104.0 L731.1,1106.0 L727.1,1104.0 L724.1,1102.0" stroke="#000" stroke-width="1.15"/>
<path d="M709.1,1112.0 L714.1,1111.6" stroke="#000" stroke-width="1.15"/>
<path d="M693.1,1152.5 L696.5,1151.7" stroke="#000" stroke-width="1.15"/>
<path d="M689.7,1158.5 L692.5,1157.7" stroke="#000" stroke-width="1.15"/>
<path d="M620.0,1078.0 L624.0,1080.0 L634.0,1084.0 L644.0,1088.0 L650.0,1091.0 L651.0,1095.0 L658.0,1097.0 L666.0,1097.0 L672.0,1096.0 L677.1,1094.0 L684.1,1098.0 L685.1,1103.0 L684.1,1108.0 L690.1,1110.0 L696.1,1105.0 L700.1,1104.0 L704.1,1109.0 L707.1,1112.0 L713.7,1112.0" stroke="#000" stroke-width="0.75"/>
<path d="M624.0,1080.0 L640.0,1076.0 L641.0,1072.0" stroke="#000" stroke-width="0.75"/>
<path d="M707.1,1113.0 L700.1,1117.0 L695.7,1121.0 L694.5,1126.1 L698.1,1129.1 L700.1,1133.1 L697.1,1136.1 L692.1,1136.1 L690.1,1140.1 L691.7,1145.1 L689.1,1149.1 L684.1,1150.1 L683.1,1155.1 L682.1,1160.1 L679.7,1163.1 L684.1,1166.1 L686.1,1170.1 L684.1,1176.1 L680.1,1181.1 L674.1,1187.1 L670.0,1192.1 L669.6,1196.1 L674.1,1197.1 L678.1,1195.1 L679.1,1200.1 L676.1,1205.1 L672.0,1210.1 L671.0,1216.1 L666.0,1218.1 L663.0,1221.1 L661.0,1226.1 L658.0,1230.1 L659.0,1234.2 L662.6,1237.2" stroke="#000" stroke-width="0.75"/>
<path d="M658.0,1230.1 L653.0,1232.1 L648.0,1234.2 L647.0,1240.2 L646.0,1245.2 L649.0,1249.2 L650.0,1255.2 L654.0,1258.2 L659.0,1260.2 L662.6,1261.2" stroke="#000" stroke-width="0.75"/>
<path d="M664.0,1275.2 L662.0,1279.2 L659.0,1284.2 L661.0,1286.6 L665.0,1284.2 L669.0,1282.2 L673.0,1285.2 L677.1,1280.2 L681.1,1275.2 L684.1,1274.2 L687.1,1279.2 L691.1,1281.2 L695.1,1285.2 L700.1,1284.2 L704.1,1282.2 L705.7,1286.6 L710.1,1282.2 L716.1,1280.2 L718.1,1286.2 L724.1,1288.2 L730.1,1285.2 L737.1,1283.2 L742.1,1286.2 L748.1,1286.6 L754.1,1285.8 L753.7,1281.2 L756.1,1277.2 L752.1,1274.2 L746.1,1270.2 L741.1,1266.2 L744.1,1261.2 L750.1,1264.2 L754.1,1259.2 L753.1,1253.2 L753.1,1246.2 L758.1,1243.2 L763.1,1241.2 L768.1,1244.2 L770.1,1238.2 L772.1,1232.1 L769.1,1226.1 L771.1,1219.1 L773.7,1213.1 L768.1,1211.1 L762.1,1209.1 L756.1,1206.1 L752.1,1204.1 L751.1,1198.1 L749.1,1196.1 L753.1,1191.1 L754.5,1185.1 L748.1,1184.1 L740.1,1186.1 L734.1,1183.7 L728.1,1185.1 L722.1,1188.1 L718.1,1188.1 L720.1,1181.1 L719.1,1175.1 L715.1,1171.1 L713.1,1164.1 L711.1,1158.1 L709.7,1155.1 L716.1,1153.1 L723.1,1148.5 L726.1,1154.1 L729.7,1161.1 L735.1,1161.1 L738.1,1156.1 L739.1,1151.1 L744.1,1144.1 L751.1,1137.1 L758.1,1134.1 L764.1,1128.1 L772.1,1119.0 L780.1,1115.0 L788.2,1111.0 L795.2,1107.0 L790.2,1103.6 L785.2,1100.0 L792.2,1097.0 L796.2,1094.0 L792.2,1091.0 L786.2,1094.0 L780.1,1098.0 L774.1,1101.6 L769.1,1101.0 L766.1,1094.0 L765.1,1086.0 L766.1,1080.0 L770.1,1078.0 L768.1,1072.0" stroke="#000" stroke-width="0.75"/>
<path d="M215.0,894.1 L220.4,886.9 L223.4,882.7 L221.2,880.2 L217.0,878.5" stroke="#000" stroke-width="0.75"/>
<path d="M207.0,850.0 L207.8,855.0 L212.0,860.9 L218.7,862.1 L225.4,862.6 L232.1,865.1 L237.2,868.4 L239.7,871.8" stroke="#000" stroke-width="0.75"/>
<path d="M221.2,880.2 L225.4,876.0 L230.4,874.3 L235.5,875.1 L239.7,871.8" stroke="#000" stroke-width="0.75"/>
<path d="M227.1,877.7 L227.9,879.8" stroke="#000" stroke-width="1.15"/>
<path d="M232.1,876.0 L233.0,877.7" stroke="#000" stroke-width="1.15"/>
<path d="M235.5,875.5 L236.3,877.7" stroke="#000" stroke-width="1.15"/>
<path d="M233.8,884.4 L237.2,882.7 L241.3,881.0 L243.9,883.5 L242.2,886.0 L238.8,885.2 L241.3,887.7 L245.5,890.2 L248.0,892.7 L250.6,893.9" stroke="#000" stroke-width="1.15"/>
<path d="M238.8,881.0 L239.7,886.0" stroke="#000" stroke-width="1.15"/>
<path d="M223.4,882.7 L222.1,887.7 L221.2,891.9 L224.6,896.1 L227.9,900.3 L230.4,903.6 L237.2,904.5 L243.0,903.6 L247.2,903.3" stroke="#000" stroke-width="0.75"/>
<path d="M223.4,887.7 L228.8,886.0 L233.8,887.7 L238.8,890.2 L243.9,892.7 L250.6,894.4 L257.3,896.1" stroke="#000" stroke-width="0.75"/>
<path d="M226.3,909.5 L220.4,906.1 L213.7,904.0 L205.3,905.3 L196.9,908.7 L191.1,912.0 L189.4,916.2 L191.9,919.6 L196.9,923.7 L202.0,926.3 L205.3,929.6 L209.5,933.0 L212.0,937.2 L214.5,941.3" stroke="#000" stroke-width="0.75"/>
<path d="M226.3,909.5 L228.8,910.7 L232.1,908.7 L235.5,909.0 L238.8,907.0 L242.2,906.1 L243.0,903.6" stroke="#000" stroke-width="0.75"/>
<path d="M227.1,910.0 L227.9,908.7" stroke="#000" stroke-width="1.15"/>
<path d="M231.8,909.0 L232.5,907.5" stroke="#000" stroke-width="1.15"/>
<path d="M340.5,778.0 L344.7,777.7 L348.9,776.3 L355.9,777.7 L360.1,781.2 L367.0,784.0 L370.0,784.0" stroke="#222" stroke-width="2.0"/>
<path d="M340.5,778.0 L344.7,777.7 L348.9,776.3 L355.9,777.7 L360.1,781.2 L367.0,784.0 L370.0,784.0" stroke="#fff" stroke-width="0.55"/>
<path d="M367.0,784.4 L369.8,790.3 L374.0,795.9 L377.5,801.5 L379.6,807.0 L379.6,812.6" stroke="#222" stroke-width="2.0"/>
<path d="M367.0,784.4 L369.8,790.3 L374.0,795.9 L377.5,801.5 L379.6,807.0 L379.6,812.6" stroke="#fff" stroke-width="0.55"/>
<path d="M350.3,775.6 L355.9,771.4 L362.8,767.2 L368.4,763.7" stroke="#000" stroke-width="1.15"/>
<path d="M300.0,804.2 L305.6,803.5 L311.2,804.9 L315.4,807.7 L322.3,808.4 L330.7,807.0 L337.7,809.1 L344.7,808.7 L348.9,811.2 L351.0,816.1 L355.9,819.6 L361.5,821.0 L367.0,823.8" stroke="#222" stroke-width="2.0"/>
<path d="M300.0,804.2 L305.6,803.5 L311.2,804.9 L315.4,807.7 L322.3,808.4 L330.7,807.0 L337.7,809.1 L344.7,808.7 L348.9,811.2 L351.0,816.1 L355.9,819.6 L361.5,821.0 L367.0,823.8" stroke="#fff" stroke-width="0.55"/>
<path d="M367.0,823.8 L369.8,822.4 L374.0,818.2 L379.6,812.9 L386.6,812.6 L395.0,813.3 L403.4,816.1 L411.7,816.5 L420.1,816.1 L428.5,816.1 L436.9,816.1 L441.1,814.0 L445.3,811.9 L450.0,810.5" stroke="#222" stroke-width="2.7"/>
<path d="M367.0,823.8 L369.8,822.4 L374.0,818.2 L379.6,812.9 L386.6,812.6 L395.0,813.3 L403.4,816.1 L411.7,816.5 L420.1,816.1 L428.5,816.1 L436.9,816.1 L441.1,814.0 L445.3,811.9 L450.0,810.5" stroke="#fff" stroke-width="1.35"/>
<path d="M368.4,825.2 L372.6,824.5 L371.9,828.7 L369.1,828.0 Z" stroke="#000" stroke-width="1.15"/>
<path d="M362.8,819.6 L365.6,820.3 L364.2,821.7" stroke="#000" stroke-width="1.15"/>
<path d="M368.4,828.0 L367.7,832.2 L367.7,840.6 L368.4,847.5 L369.1,854.5" stroke="#222" stroke-width="2.0"/>
<path d="M368.4,828.0 L367.7,832.2 L367.7,840.6 L368.4,847.5 L369.1,854.5" stroke="#fff" stroke-width="0.55"/>
<path d="M436.9,816.5 L432.7,821.0 L425.7,823.8 L418.7,823.8 L411.7,824.5 L406.1,828.0 L402.7,833.6 L400.6,839.2 L396.4,844.7 L390.8,848.9 L385.2,853.8" stroke="#222" stroke-width="2.7"/>
<path d="M436.9,816.5 L432.7,821.0 L425.7,823.8 L418.7,823.8 L411.7,824.5 L406.1,828.0 L402.7,833.6 L400.6,839.2 L396.4,844.7 L390.8,848.9 L385.2,853.8" stroke="#fff" stroke-width="1.35"/>
<path d="M417.3,823.8 L410.3,827.3 L406.1,832.2 L404.1,837.8 L403.4,843.4 L404.1,848.9 L400.6,851.7 L396.4,853.8" stroke="#000" stroke-width="0.75"/>
<path d="M372.6,851.7 L374.7,847.5 L378.2,844.1 L382.4,842.7 L381.0,846.1 L377.5,848.9 L378.2,851.7 L376.1,854.5 L374.0,853.8" stroke="#000" stroke-width="1.15"/>
<path d="M392.2,855.2 L397.8,852.4 L403.4,850.3 L400.6,853.8 L395.0,855.9 Z" stroke="#000" stroke-width="1.15"/>
<path d="M403.4,847.5 L410.3,844.1 L417.3,842.7 L422.9,842.0" stroke="#000" stroke-width="1.15"/>
<path d="M407.5,850.3 L413.1,847.5 L418.7,844.7" stroke="#000" stroke-width="1.15"/>
<path d="M410.3,855.9 L414.5,851.7 L416.6,851.7 L413.8,855.9 Z" stroke="#000" stroke-width="1.15"/>
<path d="M404.7,833.6 L406.1,837.8 L411.7,833.6 L417.3,830.8 L419.4,830.1" stroke="#000" stroke-width="1.15"/>
<path d="M437.6,818.9 L436.2,826.6 L434.1,835.0 L431.3,840.6 L429.2,846.1 L427.8,853.1 L426.4,860.1 L428.5,863.6" stroke="#000" stroke-width="1.15"/>
<path d="M429.9,847.5 L435.5,843.4 L439.7,839.2 L441.8,837.8" stroke="#000" stroke-width="1.15"/>
<path d="M799.7,942.7 L803.4,948.7 L804.9,954.6 L804.9,961.3 L807.2,966.6 L806.4,973.3 L805.7,979.3 L804.2,980.0 L803.4,993.4 L802.4,999.4 L808.7,999.4 L805.7,1003.9 L806.4,1009.9 L808.7,1016.6 L802.7,1022.5 L800.0,1025.5" stroke="#000" stroke-width="0.75"/>
<path d="M587.0,509.0 L584.0,514.0 L578.0,519.0 L583.0,528.0 L585.0,534.0" stroke="#000" stroke-width="0.95"/>
<path d="M800.0,685.1 L802.5,688.0 L802.0,691.0 L800.0,693.0" stroke="#000" stroke-width="1.15"/>
<path d="M223.6,739.0 L218.0,740.7 L212.5,739.0 L206.9,737.9 L201.3,737.3 L196.3,737.3 L192.9,738.4 L189.6,742.3 L187.3,746.3 L186.2,750.2 L186.8,753.5 L189.0,756.9 L190.7,761.3 L191.8,765.8 L194.0,768.6 L196.8,769.7 L199.6,769.2 L196.8,767.5 L195.7,765.3 L196.8,763.0 L199.1,762.5 L200.7,764.1 L200.7,766.9 L199.6,769.2" stroke="#000" stroke-width="0.75"/>
<path d="M199.6,768.0 L203.5,767.5 L208.0,766.4 L210.8,765.8 L211.9,768.0 L212.5,769.7 L209.1,773.6 L206.3,777.0 L205.2,780.9 L205.5,784.8 L207.4,788.2 L210.2,792.6 L213.0,797.1 L214.7,800.4 L214.7,802.7" stroke="#000" stroke-width="0.75"/>
<path d="M192.9,740.1 L195.7,739.0 L198.5,740.7 L196.8,744.0 L194.0,749.1 L191.2,753.5 L188.4,754.6 L187.3,751.8 L188.4,747.4 L190.7,743.5 Z" stroke="#000" stroke-width="0.75"/>
<path d="M192.3,742.3 L195.1,741.8 L196.3,744.0 L194.0,748.5 L191.8,752.4 L189.6,753.0 L189.0,750.7 L190.1,746.8 Z" stroke="#000" stroke-width="0.75"/>
<path d="M194.0,746.8 L196.3,746.8 L195.1,750.2 L192.9,753.5" stroke="#000" stroke-width="0.75"/>
<path d="M198.5,740.7 L203.5,742.3 L209.1,745.1 L214.7,746.8 L218.0,747.9" stroke="#000" stroke-width="0.75"/>
<path d="M199.1,750.2 L201.3,749.6 L200.7,751.3" stroke="#000" stroke-width="0.75"/>
<path d="M205.8,749.1 L211.3,747.9 L211.9,749.3 L206.9,750.7 Z" stroke="#000" stroke-width="0.75"/>
<path d="M205.8,755.8 L211.9,754.1 L216.4,753.5 L216.9,755.2 L212.5,756.3 L207.4,758.0 Z" stroke="#000" stroke-width="0.75"/>
<path d="M207.4,761.3 L212.5,759.7 L218.6,758.5 L218.9,760.2 L213.6,761.9 L208.5,763.0 Z" stroke="#000" stroke-width="0.75"/>
<path d="M210.2,735.1 L223.6,740.1" stroke="#000" stroke-width="1.15"/>
<path d="M219.2,740.1 L230.3,746.3" stroke="#000" stroke-width="1.15"/>
<path d="M208.5,762.5 L218.6,759.3" stroke="#000" stroke-width="1.15"/>
<path d="M218.0,741.2 L218.6,747.9 L219.2,753.5 L219.7,758.0" stroke="#000" stroke-width="0.75"/>
<path d="M221.4,749.1 L223.6,746.8 L227.0,747.4 L225.9,750.7 L222.5,752.4 L221.4,755.8 L223.1,757.4" stroke="#000" stroke-width="0.75"/>
<path d="M225.9,749.6 L228.1,753.5 L229.8,757.4 L231.5,758.5 L233.1,754.6 L234.8,751.3 L232.6,752.4 L230.9,755.8" stroke="#000" stroke-width="0.75"/>
<path d="M232.6,747.9 L235.9,750.2 L238.2,753.5 L239.8,756.9 L241.5,759.1 L244.9,759.7" stroke="#000" stroke-width="0.75"/>
<path d="M223.6,739.6 L230.3,744.0 L237.0,749.1 L243.7,754.1 L250.4,758.5 L256.0,763.0 L260.5,767.5 L265.0,771.4 L270.6,774.7 L276.1,777.5 L281.7,779.8 L290.0,781.5" stroke="#000" stroke-width="0.75"/>
<path d="M222.5,741.2 L229.2,745.7 L235.9,750.7 L242.6,755.8 L249.3,760.8 L254.9,765.3 L258.3,770.3 L259.4,774.7 L258.3,778.1" stroke="#000" stroke-width="0.75"/>
<path d="M230.3,742.3 L237.0,746.8 L246.0,752.4 L252.7,757.4 L258.3,761.3 L262.7,766.9 L268.3,771.4 L275.0,775.3 L281.7,778.1 L290.0,779.8" stroke="#000" stroke-width="0.75"/>
<path d="M218.6,759.1 L223.6,759.7 L230.3,760.8 L237.0,762.5" stroke="#000" stroke-width="1.15"/>
<path d="M237.0,762.5 L241.5,764.1 L243.7,766.9 L247.1,770.3" stroke="#000" stroke-width="0.75"/>
<path d="M247.1,770.3 L251.6,774.7 L254.9,777.5 L258.3,779.2" stroke="#000" stroke-width="1.15"/>
<path d="M218.0,762.5 L222.5,763.0 L223.6,764.7 L220.3,765.3 L216.9,764.7" stroke="#000" stroke-width="0.75"/>
<path d="M248.2,764.7 L250.4,768.0 L252.7,770.3 L256.0,770.3 L256.6,766.9" stroke="#000" stroke-width="0.75"/>
<path d="M258.3,778.1 L259.4,782.6 L261.6,787.0 L265.0,790.9 L269.4,793.2 L275.0,793.7 L281.7,793.2 L286.2,792.6 L288.4,791.5 L286.8,787.0 L286.2,782.6 L290.0,780.9" stroke="#000" stroke-width="0.75"/>
<path d="M259.4,780.9 L262.7,780.3 L265.0,781.5" stroke="#000" stroke-width="1.15"/>
<path d="M260.5,785.9 L263.3,787.0 L265.0,788.2" stroke="#000" stroke-width="1.15"/>
<path d="M270.6,780.9 L272.8,780.3 L271.7,783.7 L270.0,787.0 L271.7,789.8" stroke="#000" stroke-width="0.75"/>
<path d="M273.9,782.0 L277.3,780.9 L278.9,782.6 L276.1,784.8 L274.5,787.0 L276.7,788.2" stroke="#000" stroke-width="0.75"/>
<path d="M280.1,782.6 L281.7,787.0 L281.2,790.4" stroke="#000" stroke-width="0.75"/>
<path d="M284.0,783.7 L285.1,788.2" stroke="#000" stroke-width="0.75"/>
<path d="M224.0,756.0 L224.1,756.3 L224.3,756.6" stroke="#000" stroke-width="0.75"/>
<path d="M223.7,755.7 L224.1,756.0 L224.1,756.5" stroke="#000" stroke-width="1.15"/>
<path d="M256.8,783.3 L256.6,783.2 L256.4,783.2" stroke="#000" stroke-width="1.15"/>
</g>
<g id="legend">
<rect x="25" y="205.1" width="28" height="28" rx="1.2" fill="#B2B2B2"/>
<text x="68.5" y="228.3" font-size="33.0" fill="#000">present</text>
<rect x="25" y="241.0" width="28" height="28" rx="1.2" fill="#D6ECFB"/>
<text x="77" y="264.2" font-size="33.0" fill="#000">1 - 3 (150)</text>
<rect x="25" y="276.9" width="28" height="28" rx="1.2" fill="#B3E2FA"/>
<text x="77" y="300.1" font-size="33.0" fill="#000">4 - 10 (46)</text>
<rect x="25" y="312.8" width="28" height="28" rx="1.2" fill="#87BFDE"/>
<text x="77" y="336.0" font-size="33.0" fill="#000">11 - 25 (28)</text>
<rect x="25" y="348.7" width="28" height="28" rx="1.2" fill="#99CC99"/>
<text x="77" y="371.9" font-size="33.0" fill="#000">26 - 50 (12)</text>
<rect x="25" y="384.6" width="28" height="28" rx="1.2" fill="#B0BF38"/>
<text x="77" y="407.8" font-size="33.0" fill="#000">51 - 100 (5)</text>
<rect x="25" y="420.5" width="28" height="28" rx="1.2" fill="#E0AD00"/>
<text x="77" y="443.7" font-size="33.0" fill="#000">101 - 250 (13)</text>
<rect x="25" y="456.4" width="28" height="28" rx="1.2" fill="#FF6600"/>
<text x="77" y="479.6" font-size="33.0" fill="#000">251 - 500 (6)</text>
<rect x="25" y="492.3" width="28" height="28" rx="1.2" fill="#CC0099"/>
<text x="77" y="515.5" font-size="33.0" fill="#000">501 - 1000 (6)</text>
<rect x="25" y="528.2" width="28" height="28" rx="1.2" fill="#990066"/>
<text x="77" y="551.4" font-size="33.0" fill="#000">&gt; 1000 (36)</text>
</g>
<g id="logo">
<polygon points="35.10,1287.37 24.21,1289.07 12.10,1292.09 1.82,1295.48 13.31,1293.79 24.21,1291.37 32.68,1290.52" fill="#6a6a6a"/>
<polygon points="36.31,1289.55 31.71,1290.52 30.26,1295.36 24.21,1300.20 12.71,1306.50 24.21,1302.38 33.29,1296.82 40.55,1291.13" fill="#5a5a5a"/>
<polygon points="41.15,1241.14 38.98,1248.16 38.49,1255.42 39.94,1262.68 42.36,1269.94 45.03,1275.03 41.76,1281.08 48.42,1278.66 54.47,1277.45 58.95,1276.72 59.31,1271.76 56.89,1266.31 53.26,1260.26 48.42,1251.79 44.18,1245.13" fill="#555"/>
<polygon points="49.02,1290.52 54.47,1289.31 60.52,1287.13 64.15,1286.65 67.78,1290.52 71.42,1296.57 74.08,1302.87 70.20,1303.84 65.36,1302.87 59.31,1300.45 54.47,1296.82 50.84,1293.18" fill="#595959"/>
<polygon points="34.26,1288.10 39.94,1283.26 46.00,1280.23 53.26,1278.18 58.95,1277.69 58.34,1283.26 60.76,1286.89 54.47,1289.55 48.42,1290.76 41.15,1290.76 36.31,1290.16" fill="#c4c4c4"/>
<polygon points="41.76,1283.26 53.26,1278.42 58.95,1277.69 58.34,1282.05 50.84,1283.86" fill="#a8a8a8"/>
<polygon points="58.71,1277.93 62.94,1277.45 65.97,1278.42 68.03,1279.51 65.97,1281.08 64.15,1283.50 62.94,1286.04 60.52,1287.01 58.34,1284.11 57.98,1280.84" fill="#1a1a1a"/>
<polygon points="63.91,1278.66 68.03,1279.51 65.97,1281.08 64.15,1283.50 62.34,1282.05" fill="#8a8a8a"/>
<path d="M41.76,1243.31 Q47.81,1260.26 46.00,1276.00" stroke="#8a8a8a" stroke-width="0.35" fill="none"/>
<path d="M39.34,1259.66 Q48.42,1259.05 56.89,1268.73" stroke="#8a8a8a" stroke-width="0.35" fill="none"/>
<path d="M52.05,1292.94 Q62.94,1292.94 72.63,1299.60" stroke="#8a8a8a" stroke-width="0.35" fill="none"/>
<path d="M62.94,1288.10 Q67.78,1295.36 67.78,1303.23" stroke="#8a8a8a" stroke-width="0.35" fill="none"/>
<text x="32.6" y="1325.6" font-size="30.6" fill="#444" textLength="82" lengthAdjust="spacingAndGlyphs">Sovon</text>
</g>
<g id="caption" font-size="20.1" fill="#8C969B">
<text x="133.3" y="1289.7">Greater Scaup - Aythya marila</text>
<text x="133.3" y="1309.6">Abundance wintering 2013-2015</text>
<text x="133.3" y="1329.5">© Sovon Vogelonderzoek Nederland (Vogelatlas)</text>
</g>

</svg>
</body></html>
